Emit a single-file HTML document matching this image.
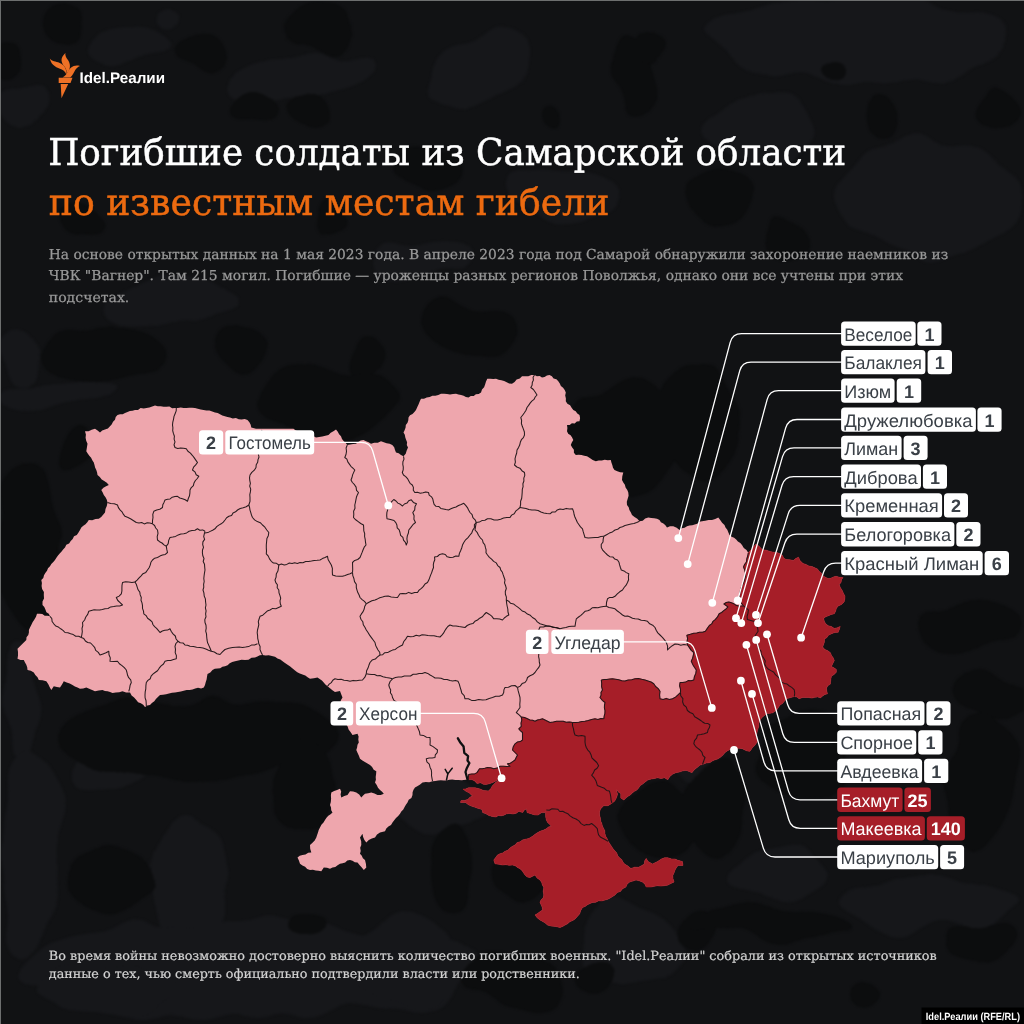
<!DOCTYPE html>
<html lang="ru"><head><meta charset="utf-8"><title>Погибшие солдаты из Самарской области</title>
<style>
html,body{margin:0;padding:0;background:#111214;}
body{width:1024px;height:1024px;overflow:hidden;position:relative;font-family:"Liberation Sans", "DejaVu Sans", sans-serif;}
svg{position:absolute;left:0;top:0;display:block;will-change:transform}
text{text-rendering:geometricPrecision}
.t1{font-family:"DejaVu Serif", "Liberation Serif", serif;font-size:37px;stroke-width:.5px;paint-order:stroke}
.sub{font-family:"DejaVu Serif", "Liberation Serif", serif;font-size:13.7px;fill:#999;stroke:#999;stroke-width:.25px}
.foot{font-family:"DejaVu Serif", "Liberation Serif", serif;font-size:12.6px;fill:#d2d2d2;stroke:#d2d2d2;stroke-width:.2px}
.lb{font-family:"Liberation Sans", "DejaVu Sans", sans-serif;font-size:18px;fill:#3a4047}
.nb{font-family:"Liberation Sans", "DejaVu Sans", sans-serif;font-size:18px;font-weight:700;fill:#3a4047;text-anchor:middle}
.logo{font-family:"Liberation Sans", "DejaVu Sans", sans-serif;font-size:15.3px;font-weight:700;fill:#fff}
.cap{font-family:"Liberation Sans", "DejaVu Sans", sans-serif;font-size:10.4px;font-weight:700;fill:#fff}
.ld{fill:none;stroke:#fff;stroke-width:1.3;stroke-linejoin:round}
.bd{fill:none;stroke:#1d1315;stroke-width:1.05;stroke-opacity:.95;stroke-linejoin:round}
</style></head><body>
<svg width="1024" height="1024" viewBox="0 0 1024 1024">
<rect width="1024" height="1024" fill="#111214"/>
<defs><filter id="bl" x="0" y="0" width="1024" height="1024" filterUnits="userSpaceOnUse" color-interpolation-filters="sRGB"><feTurbulence type="fractalNoise" baseFrequency="0.013" numOctaves="2" seed="7" result="n"/><feDisplacementMap in="SourceGraphic" in2="n" scale="42" xChannelSelector="R" yChannelSelector="G"/><feGaussianBlur stdDeviation="1"/></filter></defs>
<g filter="url(#bl)">
<ellipse cx="171" cy="22" rx="13" ry="11" fill="#16171a"/>
<ellipse cx="133" cy="49" rx="47" ry="15" fill="#16171a"/>
<ellipse cx="24" cy="107" rx="24" ry="20" fill="#16171a"/>
<ellipse cx="24" cy="353" rx="24" ry="30" fill="#16171a"/>
<ellipse cx="300" cy="75" rx="75" ry="22" fill="#16171a" transform="rotate(-10 300 75)"/>
<ellipse cx="170" cy="300" rx="70" ry="20" fill="#16171a"/>
<ellipse cx="480" cy="70" rx="60" ry="32" fill="#16171a" transform="rotate(-20 480 70)"/>
<ellipse cx="560" cy="190" rx="55" ry="28" fill="#16171a" transform="rotate(10 560 190)"/>
<ellipse cx="420" cy="260" rx="50" ry="22" fill="#16171a"/>
<ellipse cx="860" cy="40" rx="150" ry="45" fill="#16171a"/>
<ellipse cx="930" cy="200" rx="90" ry="60" fill="#16171a"/>
<ellipse cx="760" cy="130" rx="60" ry="40" fill="#16171a"/>
<ellipse cx="20" cy="700" rx="18" ry="60" fill="#16171a"/>
<ellipse cx="60" cy="395" rx="60" ry="14" fill="#16171a"/>
<ellipse cx="108" cy="772" rx="42" ry="22" fill="#16171a" transform="rotate(-15 108 772)"/>
<ellipse cx="30" cy="850" rx="28" ry="100" fill="#16171a"/>
<ellipse cx="190" cy="880" rx="40" ry="60" fill="#16171a"/>
<ellipse cx="250" cy="968" rx="230" ry="48" fill="#16171a"/>
<ellipse cx="100" cy="990" rx="70" ry="25" fill="#16171a"/>
<ellipse cx="440" cy="800" rx="50" ry="25" fill="#16171a"/>
<ellipse cx="400" cy="960" rx="60" ry="40" fill="#16171a"/>
<ellipse cx="690" cy="760" rx="30" ry="18" fill="#16171a"/>
<ellipse cx="632" cy="940" rx="50" ry="45" fill="#16171a"/>
<ellipse cx="780" cy="875" rx="50" ry="26" fill="#16171a"/>
<ellipse cx="935" cy="900" rx="90" ry="27" fill="#16171a"/>
<ellipse cx="67" cy="22" rx="21" ry="17" fill="#0c0d0e"/>
<ellipse cx="204" cy="58" rx="22" ry="17" fill="#0c0d0e"/>
<ellipse cx="319" cy="26" rx="32" ry="24" fill="#0c0d0e"/>
<ellipse cx="259" cy="109" rx="26" ry="19" fill="#0c0d0e"/>
<ellipse cx="311" cy="112" rx="18" ry="18" fill="#0c0d0e"/>
<ellipse cx="77" cy="219" rx="22" ry="15" fill="#0c0d0e"/>
<ellipse cx="334" cy="221" rx="17" ry="13" fill="#0c0d0e"/>
<ellipse cx="5" cy="58" rx="14" ry="22" fill="#0c0d0e"/>
<ellipse cx="107" cy="350" rx="58" ry="34" fill="#0c0d0e"/>
<ellipse cx="236" cy="352" rx="26" ry="22" fill="#0c0d0e"/>
<ellipse cx="366" cy="352" rx="18" ry="22" fill="#0c0d0e"/>
<ellipse cx="547" cy="114" rx="13" ry="13" fill="#0c0d0e"/>
<ellipse cx="635" cy="80" rx="22" ry="43" fill="#0c0d0e"/>
<ellipse cx="430" cy="160" rx="30" ry="20" fill="#0c0d0e"/>
<ellipse cx="470" cy="330" rx="40" ry="25" fill="#0c0d0e"/>
<ellipse cx="882" cy="120" rx="17" ry="22" fill="#0c0d0e"/>
<ellipse cx="836" cy="72" rx="10" ry="9" fill="#0c0d0e"/>
<ellipse cx="655" cy="56" rx="15" ry="19" fill="#0c0d0e"/>
<ellipse cx="720" cy="202" rx="32" ry="22" fill="#0c0d0e"/>
<ellipse cx="784" cy="242" rx="20" ry="20" fill="#0c0d0e"/>
<ellipse cx="997" cy="105" rx="27" ry="19" fill="#0c0d0e"/>
<ellipse cx="330" cy="400" rx="70" ry="35" fill="#0c0d0e"/>
<ellipse cx="620" cy="440" rx="60" ry="55" fill="#0c0d0e"/>
<ellipse cx="700" cy="420" rx="40" ry="60" fill="#0c0d0e"/>
<ellipse cx="71" cy="450" rx="16" ry="18" fill="#0c0d0e"/>
<ellipse cx="30" cy="540" rx="34" ry="85" fill="#0c0d0e"/>
<ellipse cx="200" cy="740" rx="140" ry="42" fill="#0c0d0e"/>
<ellipse cx="305" cy="790" rx="34" ry="42" fill="#0c0d0e"/>
<ellipse cx="110" cy="880" rx="45" ry="35" fill="#0c0d0e"/>
<ellipse cx="307" cy="925" rx="18" ry="16" fill="#0c0d0e"/>
<ellipse cx="451" cy="865" rx="19" ry="45" fill="#0c0d0e"/>
<ellipse cx="520" cy="880" rx="25" ry="22" fill="#0c0d0e"/>
<ellipse cx="520" cy="985" rx="50" ry="30" fill="#0c0d0e"/>
<ellipse cx="660" cy="820" rx="45" ry="35" fill="#0c0d0e"/>
<ellipse cx="800" cy="755" rx="48" ry="42" fill="#0c0d0e"/>
<ellipse cx="715" cy="808" rx="38" ry="42" fill="#0c0d0e"/>
<ellipse cx="698" cy="930" rx="18" ry="18" fill="#0c0d0e"/>
<ellipse cx="597" cy="973" rx="18" ry="16" fill="#0c0d0e"/>
<ellipse cx="770" cy="925" rx="80" ry="16" fill="#0c0d0e"/>
<ellipse cx="972" cy="623" rx="52" ry="30" fill="#0c0d0e"/>
<ellipse cx="990" cy="700" rx="34" ry="22" fill="#0c0d0e"/>
<ellipse cx="980" cy="780" rx="40" ry="60" fill="#0c0d0e"/>
<ellipse cx="870" cy="990" rx="18" ry="18" fill="#0c0d0e"/>
<ellipse cx="985" cy="942" rx="40" ry="20" fill="#0c0d0e"/>
</g>
<rect x="0" y="0" width="1024" height="1" fill="#6d6f6f"/><rect x="0" y="0" width="1" height="1024" fill="#6d6f6f"/>

<g fill="#ee7126">
<path d="M65.4,53 C59.8,58.2 61,62.4 64.6,66.8 C66.4,69.1 67,71.6 66.2,74.2 C71.4,68.6 70.6,63.2 67.6,59.4 C66,57.4 65,55.4 65.4,53Z"/>
<path d="M49.8,58.6 C51.4,66.2 57.2,67.6 61.8,69.6 C64.4,70.8 65.6,72.4 66.3,74.8 C67,68.6 64,64.6 59.8,63 C55.6,61.4 52,61.4 49.8,58.6Z"/>
<path d="M80,66 C73.2,64.4 69.8,68.2 67.8,71.8 C66.4,74.2 65.2,76 62.6,77.4 L70.2,77.4 C72.6,75.6 73.4,73 75,70.5 C76.2,68.5 77.5,67 80,66Z"/>
<path d="M58.7,77.8 L72.5,77.8 L70.5,82.9 L58.7,82.9Z"/>
<path d="M60.7,84 L68.2,84 L61.5,98.2 Z"/>
</g>
<text class="logo" x="79.6" y="82.8" textLength="85.4" lengthAdjust="spacingAndGlyphs">Idel.Реалии</text>

<text class="t1" x="48.2" y="165.4" textLength="798" lengthAdjust="spacingAndGlyphs" fill="#fff" stroke="#fff">Погибшие солдаты из Самарской области</text>
<text class="t1" x="48.8" y="215.3" textLength="560.5" lengthAdjust="spacingAndGlyphs" fill="#ec6a10" stroke="#ec6a10">по известным местам гибели</text>
<text class="sub" x="48.8" y="258.8" textLength="899.4" lengthAdjust="spacingAndGlyphs">На основе открытых данных на 1 мая 2023 года. В апреле 2023 года под Самарой обнаружили захоронение наемников из</text>
<text class="sub" x="48.8" y="280.2" textLength="854.2" lengthAdjust="spacingAndGlyphs">ЧВК "Вагнер". Там 215 могил. Погибшие — уроженцы разных регионов Поволжья, однако они все учтены при этих</text>
<text class="sub" x="48.8" y="301.5" textLength="80.5" lengthAdjust="spacingAndGlyphs">подсчетах.</text>
<text class="foot" x="48.8" y="959.5" textLength="888" lengthAdjust="spacingAndGlyphs">Во время войны невозможно достоверно выяснить количество погибших военных. "Idel.Реалии" собрали из открытых источников</text>
<text class="foot" x="48.8" y="978.3" textLength="531" lengthAdjust="spacingAndGlyphs">данные о тех, чью смерть официально подтвердили власти или родственники.</text>
<path d="M26.3,640.0 L26.5,637.3 L28.3,635.1 L28.9,632.6 L28.9,629.9 L30.0,627.5 L31.4,624.8 L32.7,622.0 L34.4,619.4 L36.0,616.7 L37.0,613.8 L39.7,613.7 L42.3,614.1 L44.7,615.8 L47.4,615.7 L50.0,616.3 L48.8,613.8 L46.4,612.2 L45.4,609.6 L44.3,607.1 L42.5,605.0 L42.5,601.6 L44.0,598.4 L43.8,595.0 L43.9,591.9 L42.1,589.1 L41.6,586.1 L41.9,583.0 L41.3,580.0 L43.3,578.1 L44.0,575.3 L45.3,572.9 L47.0,570.8 L48.0,568.2 L50.0,566.3 L51.3,564.0 L53.3,562.1 L55.0,560.0 L56.4,557.7 L58.0,555.6 L59.7,553.5 L61.6,551.6 L63.1,549.4 L65.0,547.5 L66.3,544.8 L69.1,543.5 L70.7,541.0 L72.7,538.9 L74.0,536.3 L76.8,534.9 L78.5,532.5 L80.0,530.0 L81.3,527.6 L83.3,525.8 L85.5,524.2 L87.3,522.2 L88.8,520.0 L92.2,520.2 L95.5,519.1 L98.8,518.8 L101.2,517.0 L103.1,514.8 L105.0,512.5 L105.5,509.1 L106.8,505.9 L107.5,502.5 L106.8,499.7 L105.5,497.3 L103.8,495.0 L102.7,492.4 L101.3,490.0 L103.4,487.8 L106.1,486.3 L108.8,485.0 L106.8,482.7 L104.2,481.1 L101.7,479.4 L99.8,476.9 L97.5,475.0 L97.1,472.4 L96.3,469.9 L95.1,467.6 L94.5,465.0 L93.8,462.5 L92.3,460.3 L91.1,457.8 L89.3,455.8 L87.7,453.6 L86.3,451.3 L86.9,447.5 L87.5,443.8 L86.2,440.8 L85.6,437.7 L85.9,434.4 L85.0,431.3 L88.5,431.2 L91.7,429.8 L95.0,428.8 L97.6,430.5 L100.0,432.5 L102.2,430.5 L105.0,429.4 L107.9,428.5 L110.0,426.3 L111.8,424.3 L113.0,421.8 L115.0,419.8 L115.7,417.0 L117.5,415.0 L120.0,414.3 L122.7,414.2 L125.0,413.0 L127.5,412.1 L129.9,411.1 L132.5,410.8 L135.0,410.0 L138.0,410.0 L140.6,408.0 L143.7,408.5 L146.5,407.9 L149.4,407.4 L152.2,406.5 L155.0,405.5 L157.8,406.3 L160.7,406.2 L163.6,406.7 L166.4,406.8 L169.4,406.6 L172.1,408.2 L175.0,408.0 L177.9,408.1 L180.7,407.5 L183.6,408.0 L186.4,408.0 L189.3,407.8 L192.1,407.8 L195.0,408.0 L197.8,408.7 L200.7,409.5 L203.5,410.1 L206.4,410.5 L209.4,410.5 L212.2,411.5 L215.0,412.5 L217.7,412.9 L220.0,414.3 L222.3,415.5 L224.9,416.3 L227.4,417.1 L230.0,417.5 L232.8,418.4 L235.9,418.0 L238.7,419.3 L241.6,419.4 L244.7,419.0 L247.5,420.0 L249.4,422.2 L250.7,424.7 L251.3,427.5 L256.0,428.8 L293.5,428.8 L295.8,430.4 L298.3,431.4 L301.2,431.1 L303.7,432.1 L305.8,434.1 L308.4,434.9 L310.9,435.8 L313.6,436.3 L316.0,437.5 L319.2,437.0 L322.3,436.4 L325.4,435.7 L328.5,435.0 L330.7,432.8 L333.4,431.2 L336.0,429.5 L337.8,431.7 L339.1,434.2 L341.0,436.3 L342.0,438.9 L343.6,441.0 L345.7,442.9 L347.3,445.0 L350.2,444.5 L353.1,443.9 L356.0,443.8 L358.2,441.9 L360.7,440.6 L363.5,440.0 L366.0,441.2 L368.6,442.3 L371.0,443.8 L374.3,442.8 L377.8,442.7 L381.0,441.3 L383.8,442.3 L386.6,443.2 L389.6,443.7 L392.3,445.0 L394.2,447.2 L395.0,449.9 L396.0,452.5 L398.7,453.3 L401.0,455.0 L403.5,456.3 L405.7,453.7 L406.7,450.6 L408.0,447.5 L406.8,445.1 L407.1,442.3 L406.2,439.9 L405.3,437.4 L404.8,434.8 L403.5,432.5 L404.7,430.1 L405.6,427.6 L405.8,424.9 L407.5,422.7 L408.3,420.2 L408.5,417.5 L410.0,415.3 L412.5,414.0 L414.4,412.1 L416.0,410.0 L417.2,407.2 L418.5,404.4 L419.7,401.6 L421.0,398.8 L424.0,398.7 L426.7,397.4 L429.7,397.1 L432.4,395.7 L435.4,395.8 L438.3,395.1 L441.0,393.8 L444.0,393.7 L447.0,393.9 L450.0,394.4 L453.0,394.1 L456.0,393.8 L458.5,394.5 L461.1,394.9 L463.6,395.8 L465.9,397.0 L468.5,397.5 L470.8,396.0 L473.7,396.1 L475.9,394.2 L478.7,394.1 L481.0,392.5 L482.0,389.6 L484.1,387.3 L485.1,384.4 L486.0,381.5 L487.3,378.8 L490.2,378.8 L493.1,379.0 L496.0,378.8 L498.6,379.8 L501.4,380.2 L504.1,380.9 L506.7,382.2 L509.1,383.6 L512.0,383.8 L514.6,382.1 L516.6,379.5 L519.8,378.6 L522.0,376.3 L525.2,376.3 L528.3,376.3 L531.3,374.9 L534.5,375.0 L536.9,376.2 L539.7,376.0 L542.0,377.5 L544.6,376.9 L546.9,375.5 L549.5,375.0 L551.9,376.2 L553.6,378.6 L556.4,379.2 L558.3,381.3 L559.8,383.6 L560.9,386.1 L563.1,387.8 L564.7,390.0 L565.8,392.5 L565.2,395.4 L565.9,398.4 L565.8,401.3 L567.4,403.7 L570.1,405.2 L571.6,407.7 L573.3,410.0 L575.7,411.3 L577.3,413.5 L579.5,415.0 L580.1,418.1 L579.5,421.3 L576.8,421.4 L574.7,423.5 L571.9,423.2 L569.7,424.9 L567.0,425.0 L567.4,428.1 L567.0,431.3 L568.2,433.8 L570.6,435.3 L572.1,437.5 L573.3,440.0 L571.8,442.4 L570.8,445.0 L572.2,447.4 L573.9,449.7 L573.9,452.8 L575.8,455.0 L578.7,454.8 L581.5,455.0 L584.2,455.7 L587.0,456.3 L589.8,458.1 L592.7,459.9 L595.8,461.3 L598.7,460.5 L601.8,460.5 L604.7,459.8 L607.8,460.2 L610.8,460.0 L611.4,462.6 L612.3,465.1 L613.0,467.7 L614.5,470.0 L617.3,471.2 L620.2,472.2 L623.3,472.5 L622.3,476.2 L622.0,480.0 L623.3,482.5 L624.9,484.8 L625.6,487.6 L627.3,489.9 L628.3,492.5 L628.6,495.7 L627.7,498.8 L626.8,501.8 L627.0,505.0 L628.7,507.3 L629.4,510.1 L630.9,512.4 L632.0,515.0 L634.5,517.1 L637.3,518.8 L639.5,521.3 L642.7,520.7 L645.2,518.4 L648.3,517.5 L651.2,518.1 L654.1,518.2 L657.0,518.8 L659.5,520.0 L660.9,522.3 L663.4,523.6 L665.4,525.3 L667.0,527.5 L670.0,526.2 L673.3,526.3 L676.7,527.7 L679.5,530.0 L681.7,528.2 L684.6,527.7 L687.0,526.3 L689.5,525.5 L692.2,525.3 L694.7,524.4 L697.2,523.7 L699.4,521.8 L702.0,521.3 L705.3,520.8 L708.6,520.1 L712.0,520.0 L715.2,518.9 L718.3,517.5 L720.2,520.1 L722.1,522.8 L724.5,525.0 L725.5,527.6 L727.3,529.8 L728.4,532.4 L729.5,535.0 L731.6,536.7 L734.1,537.8 L736.2,539.5 L737.9,541.6 L740.3,542.9 L742.0,545.0 L743.8,547.9 L746.5,550.1 L748.3,553.0 L756.0,544.0 L759.1,546.3 L761.6,549.1 L764.3,549.9 L767.1,550.4 L769.8,551.4 L772.4,552.0 L775.0,552.5 L777.7,552.8 L780.3,554.0 L782.5,555.6 L783.8,558.3 L786.3,559.6 L789.8,559.7 L793.3,560.5 L795.7,558.5 L798.5,557.2 L800.1,560.8 L803.0,563.5 L806.0,564.5 L808.8,566.0 L812.0,566.6 L814.8,567.8 L817.5,569.0 L819.0,571.3 L821.3,573.0 L822.6,575.5 L825.2,577.2 L828.0,578.5 L830.8,578.3 L833.3,577.1 L836.0,576.3 L839.4,577.3 L843.0,577.5 L841.5,579.7 L841.0,582.5 L839.2,584.5 L840.3,587.6 L842.1,590.3 L843.4,593.3 L845.0,596.2 L844.8,599.1 L844.1,602.0 L841.5,604.5 L838.2,605.9 L836.4,608.3 L835.6,611.2 L834.3,613.8 L831.2,614.4 L828.4,615.7 L825.7,616.7 L823.6,618.6 L824.3,621.2 L825.5,623.5 L828.1,625.7 L831.4,626.6 L834.3,628.4 L837.4,627.8 L840.2,626.4 L839.3,629.4 L838.2,632.3 L834.7,632.6 L831.5,633.7 L828.4,635.2 L826.9,637.6 L824.5,639.1 L824.4,641.9 L823.6,644.5 L822.6,647.0 L824.8,649.5 L827.9,650.8 L830.4,652.8 L831.5,655.5 L833.3,657.9 L834.3,660.6 L832.8,663.5 L831.4,666.5 L833.9,667.8 L836.3,669.4 L836.3,672.3 L834.0,674.5 L831.4,676.3 L830.9,678.9 L830.6,681.5 L830.4,684.1 L828.0,685.6 L826.5,688.0 L826.7,690.9 L827.5,693.8 L824.9,694.5 L822.6,695.9 L820.6,697.7 L817.7,696.9 L814.8,697.3 L811.8,698.1 L808.9,697.5 L805.6,697.4 L802.3,697.6 L799.1,698.7 L797.0,697.0 L794.3,696.5 L786.3,698.8 L784.5,701.1 L782.5,703.4 L780.0,705.0 L778.5,707.2 L777.1,709.5 L775.0,711.3 L772.7,712.8 L770.1,713.3 L767.3,713.5 L765.0,715.0 L762.2,717.2 L760.0,720.0 L758.8,723.2 L758.7,726.8 L757.5,730.0 L756.8,733.7 L756.3,737.5 L757.5,741.3 L756.1,743.6 L754.5,745.7 L752.5,747.5 L750.0,751.3 L747.3,751.0 L744.9,750.0 L742.5,748.8 L739.2,748.2 L735.8,748.3 L732.5,748.8 L729.8,749.6 L727.3,750.9 L725.0,752.5 L722.8,755.3 L720.0,757.5 L717.6,759.0 L714.9,759.8 L712.3,760.9 L710.0,762.5 L706.1,763.0 L702.5,764.5 L700.0,765.1 L697.8,766.9 L695.7,768.6 L693.6,770.5 L691.9,772.7 L689.3,771.4 L686.2,770.4 L683.0,770.8 L679.2,772.1 L675.9,772.7 L672.8,774.0 L669.8,776.4 L667.8,779.7 L664.6,777.8 L661.1,778.5 L657.6,777.8 L654.4,778.5 L651.2,779.0 L647.7,780.0 L644.9,782.2 L642.7,783.9 L640.3,785.6 L638.6,787.9 L636.8,790.1 L634.4,791.3 L632.2,793.0 L630.3,795.0 L628.0,796.3 L625.9,798.1 L623.9,800.0 L620.8,798.1 L620.8,793.6 L618.9,792.4 L616.3,789.2 L616.8,791.8 L617.6,794.3 L616.3,798.1 L614.7,801.1 L611.9,803.2 L608.1,805.7 L603.6,805.7 L600.5,808.9 L599.5,812.0 L599.6,815.3 L600.5,818.4 L600.7,821.1 L601.8,823.5 L602.4,826.0 L603.6,828.4 L604.8,830.8 L604.9,833.6 L605.7,836.2 L607.1,838.6 L608.1,841.2 L613.2,848.9 L615.0,851.0 L616.8,853.0 L617.7,855.7 L619.5,857.8 L621.7,859.5 L622.9,862.0 L624.6,864.1 L627.9,866.1 L630.9,868.5 L634.6,867.2 L638.6,867.3 L641.5,865.7 L644.3,864.1 L644.6,861.0 L646.2,858.4 L648.1,861.6 L652.5,864.1 L655.0,862.8 L657.6,861.6 L661.4,859.0 L664.5,857.8 L667.8,857.8 L671.6,859.0 L674.9,859.0 L677.9,860.3 L682.4,861.6 L683.0,865.4 L677.9,865.4 L675.4,869.2 L674.2,872.4 L672.8,875.5 L673.0,878.8 L674.1,881.9 L670.3,883.8 L667.3,885.3 L664.0,885.7 L660.8,886.1 L657.6,885.7 L654.4,886.2 L651.2,887.0 L646.2,887.0 L644.8,884.0 L642.4,881.9 L639.2,880.8 L636.0,880.0 L632.9,881.1 L629.7,881.9 L627.2,884.0 L625.9,887.0 L622.5,888.8 L620.4,891.4 L617.2,892.5 L615.0,895.0 L612.6,896.5 L610.2,898.0 L607.8,899.3 L605.0,900.0 L601.9,900.9 L598.7,900.8 L595.7,902.3 L592.5,902.5 L589.9,903.6 L587.4,904.8 L585.1,906.4 L582.5,907.5 L580.8,910.4 L579.7,913.7 L577.5,916.3 L575.4,918.7 L572.8,920.4 L569.8,921.7 L567.5,923.8 L565.0,925.1 L562.6,926.5 L560.0,927.5 L556.9,926.7 L553.7,926.3 L550.6,925.9 L547.5,925.0 L545.2,923.0 L542.7,921.4 L540.0,920.0 L537.2,917.8 L535.0,915.0 L537.6,913.4 L540.0,911.7 L542.5,910.0 L542.2,907.3 L541.2,904.9 L540.0,902.5 L541.0,899.9 L543.2,897.8 L543.8,895.0 L543.2,891.2 L543.8,887.5 L542.4,885.1 L541.6,882.3 L540.0,880.0 L537.1,877.9 L535.0,875.0 L532.5,876.3 L530.0,877.5 L527.2,876.9 L525.0,875.0 L523.5,872.8 L522.0,870.6 L520.0,868.8 L517.5,867.4 L515.3,865.8 L512.5,865.0 L509.2,865.3 L505.8,864.7 L502.5,865.0 L498.8,864.3 L495.0,863.8 L493.8,860.0 L495.7,857.6 L497.5,855.0 L500.0,853.7 L502.7,853.0 L505.0,851.3 L507.9,850.2 L510.0,847.9 L512.5,846.3 L515.1,844.9 L517.1,842.6 L520.2,841.8 L522.5,840.0 L525.1,839.3 L527.8,838.8 L530.2,837.7 L532.5,836.3 L534.8,834.4 L537.4,832.8 L540.0,831.3 L543.2,830.3 L546.3,828.8 L548.5,826.9 L551.3,826.3 L549.6,824.2 L547.6,822.4 L546.3,820.0 L545.7,816.7 L545.6,813.3 L546.3,810.0 L545.5,812.6 L541.7,812.6 L537.9,815.1 L534.7,814.9 L531.6,813.9 L527.1,812.6 L526.5,808.8 L524.1,810.2 L522.7,812.6 L518.9,811.3 L516.3,813.2 L513.0,814.0 L509.5,813.4 L506.2,813.9 L503.8,815.3 L501.2,815.8 L498.3,815.5 L496.0,817.0 L492.2,816.4 L488.9,815.5 L485.9,813.7 L482.7,812.6 L482.0,809.4 L479.5,808.7 L476.9,807.9 L474.4,807.0 L471.9,806.2 L468.5,804.7 L465.5,802.4 L460.5,802.4 L461.1,800.5 L464.7,800.4 L468.1,799.3 L469.9,797.2 L472.5,796.1 L469.4,792.9 L466.0,791.3 L463.0,789.1 L465.5,789.1 L468.6,787.7 L471.9,787.8 L475.1,787.8 L478.2,788.5 L480.8,789.3 L483.3,790.4 L488.4,791.0 L490.8,788.8 L492.2,785.9 L494.2,784.1 L496.1,782.1 L498.6,780.9 L498.6,779.6 L495.4,781.2 L492.2,782.8 L489.1,783.8 L485.9,784.5 L483.2,784.2 L480.8,782.8 L477.0,783.4 L474.8,781.1 L471.9,779.6 L468.1,779.6 L461.7,780.2 L458.5,779.9 L455.4,779.9 L452.2,779.6 L449.4,779.8 L446.6,780.6 L443.8,780.5 L440.9,780.2 L438.1,780.4 L435.3,780.9 L432.5,781.3 L429.2,782.2 L425.8,782.1 L422.5,782.5 L420.1,784.4 L417.7,786.1 L415.0,787.5 L413.5,789.8 L412.6,792.3 L412.5,795.0 L411.4,797.9 L408.7,799.7 L407.5,802.5 L405.9,804.7 L404.6,807.1 L403.3,809.5 L401.3,811.4 L400.0,813.8 L398.2,816.0 L396.0,818.0 L394.2,820.2 L392.5,822.5 L391.0,825.1 L388.4,826.6 L386.3,828.6 L385.0,831.3 L380.0,832.5 L377.0,834.5 L375.0,837.5 L371.8,838.6 L368.8,840.0 L366.3,842.5 L364.4,839.9 L363.1,837.0 L362.5,833.8 L360.0,837.5 L361.2,841.2 L361.3,845.0 L360.2,847.8 L360.7,850.9 L360.0,853.8 L361.8,855.7 L362.9,858.3 L365.0,860.0 L365.9,863.7 L366.3,867.5 L363.8,870.0 L361.8,867.5 L359.5,865.1 L357.5,862.5 L354.8,862.3 L352.5,860.7 L350.0,860.0 L347.3,860.5 L345.2,862.4 L342.6,863.2 L340.0,863.8 L337.6,865.2 L335.3,866.9 L332.5,867.6 L330.0,868.8 L327.0,867.7 L323.8,867.5 L321.3,871.3 L318.5,870.7 L315.7,870.6 L312.9,869.8 L310.0,870.0 L307.2,868.9 L305.1,866.8 L302.4,865.5 L300.0,863.8 L298.9,860.6 L297.5,857.5 L299.7,855.7 L302.5,855.0 L305.5,854.6 L308.2,852.8 L311.3,852.5 L310.2,848.8 L310.0,845.0 L312.5,842.8 L314.7,840.4 L316.3,837.5 L317.1,835.0 L318.0,832.5 L318.7,829.9 L320.0,827.5 L321.4,824.8 L323.5,822.6 L325.0,820.0 L326.5,817.8 L328.3,815.8 L330.6,814.3 L332.5,812.5 L331.2,810.2 L331.0,807.4 L330.0,805.0 L330.8,801.9 L331.1,798.8 L330.9,795.6 L331.3,792.5 L334.1,791.1 L337.1,789.9 L340.0,788.8 L341.2,791.6 L340.6,794.6 L341.3,797.5 L344.3,796.0 L347.5,795.0 L350.0,791.3 L353.2,791.6 L356.3,792.5 L359.2,794.6 L361.3,797.5 L363.1,795.6 L365.0,793.8 L368.2,793.3 L371.3,792.5 L374.5,793.6 L377.5,795.0 L380.8,794.9 L383.8,793.8 L382.1,791.7 L380.0,790.0 L378.0,787.7 L376.7,785.0 L375.0,782.5 L375.9,779.8 L375.7,776.9 L376.1,774.1 L376.3,771.3 L373.7,769.7 L372.1,767.1 L370.0,765.0 L367.5,763.5 L364.9,762.0 L362.4,760.5 L360.0,758.8 L358.9,755.8 L357.6,752.9 L356.3,750.0 L357.1,747.5 L357.5,744.8 L358.8,742.5 L358.3,739.6 L358.6,736.6 L357.5,733.8 L352.5,735.0 L350.7,732.2 L348.6,729.5 L347.5,726.3 L345.7,723.8 L345.3,720.6 L343.5,718.1 L343.0,715.0 L341.2,712.8 L340.0,710.3 L339.2,707.5 L338.0,705.0 L340.1,702.9 L341.0,700.0 L342.5,697.5 L341.2,694.3 L340.0,691.0 L335.0,692.0 L332.4,690.2 L330.0,688.2 L327.5,686.3 L325.4,684.6 L323.7,682.5 L321.9,680.6 L319.7,679.0 L317.5,677.5 L313.8,678.3 L310.0,678.8 L307.6,677.2 L305.3,675.4 L302.5,674.5 L299.8,673.6 L297.3,672.2 L295.0,670.5 L292.6,668.5 L290.2,666.5 L287.6,664.7 L285.0,663.0 L282.6,661.3 L280.3,659.5 L277.5,658.4 L275.0,656.8 L271.9,655.9 L268.8,655.2 L265.6,655.5 L262.5,655.0 L259.8,655.3 L257.4,656.4 L255.0,657.5 L251.5,657.8 L248.5,659.8 L245.0,660.0 L241.6,659.8 L238.3,660.5 L235.0,661.3 L232.2,661.9 L229.7,663.2 L227.6,665.3 L225.0,666.3 L222.4,666.8 L220.2,668.3 L217.5,668.4 L214.8,668.7 L212.5,670.0 L210.3,672.4 L207.5,674.0 L207.0,676.8 L206.6,679.6 L205.7,682.2 L205.0,684.9 L203.8,687.5 L201.1,688.6 L198.0,687.8 L195.2,688.4 L192.5,689.5 L189.6,690.1 L186.6,690.1 L183.7,690.7 L180.8,691.5 L177.9,692.1 L175.0,692.5 L172.0,692.8 L169.0,693.4 L166.1,694.3 L163.0,694.7 L160.0,695.0 L157.9,696.9 L155.9,698.9 L154.3,701.3 L151.9,702.9 L150.0,705.0 L147.3,705.5 L145.0,707.0 L143.2,704.8 L140.8,703.3 L138.1,702.3 L136.3,700.0 L134.1,697.6 L131.6,695.4 L130.0,692.5 L126.1,692.6 L122.5,691.3 L119.2,692.2 L115.8,692.5 L112.5,693.0 L110.1,691.9 L107.6,691.3 L104.9,691.1 L102.5,690.0 L98.7,690.4 L95.0,691.3 L92.1,690.0 L89.2,688.8 L86.3,687.5 L83.2,688.5 L80.0,688.8 L77.5,687.6 L74.9,686.5 L72.5,685.0 L69.7,683.5 L66.7,682.6 L63.8,681.3 L62.0,684.4 L60.0,687.5 L56.9,686.9 L53.8,686.3 L51.3,690.0 L49.6,687.1 L48.2,684.1 L46.3,681.3 L42.6,680.3 L38.8,680.0 L37.5,677.2 L35.3,675.1 L33.8,672.5 L30.8,670.8 L27.5,670.0 L27.2,667.3 L26.3,664.7 L25.0,662.4 L23.8,660.0 L20.5,660.0 L17.5,658.8 L18.0,655.5 L18.0,652.1 L17.5,648.8Z" fill="#eea6ad"/>
<path d="M756.0,544.0 L759.1,546.3 L761.6,549.1 L764.3,549.9 L767.1,550.4 L769.8,551.4 L772.4,552.0 L775.0,552.5 L777.7,552.8 L780.3,554.0 L782.5,555.6 L783.8,558.3 L786.3,559.6 L789.8,559.7 L793.3,560.5 L795.7,558.5 L798.5,557.2 L800.1,560.8 L803.0,563.5 L806.0,564.5 L808.8,566.0 L812.0,566.6 L814.8,567.8 L817.5,569.0 L819.0,571.3 L821.3,573.0 L822.6,575.5 L825.2,577.2 L828.0,578.5 L830.8,578.3 L833.3,577.1 L836.0,576.3 L839.4,577.3 L843.0,577.5 L841.5,579.7 L841.0,582.5 L839.2,584.5 L840.3,587.6 L842.1,590.3 L843.4,593.3 L845.0,596.2 L844.8,599.1 L844.1,602.0 L841.5,604.5 L838.2,605.9 L836.4,608.3 L835.6,611.2 L834.3,613.8 L831.2,614.4 L828.4,615.7 L825.7,616.7 L823.6,618.6 L824.3,621.2 L825.5,623.5 L828.1,625.7 L831.4,626.6 L834.3,628.4 L837.4,627.8 L840.2,626.4 L839.3,629.4 L838.2,632.3 L834.7,632.6 L831.5,633.7 L828.4,635.2 L826.9,637.6 L824.5,639.1 L824.4,641.9 L823.6,644.5 L822.6,647.0 L824.8,649.5 L827.9,650.8 L830.4,652.8 L831.5,655.5 L833.3,657.9 L834.3,660.6 L832.8,663.5 L831.4,666.5 L833.9,667.8 L836.3,669.4 L836.3,672.3 L834.0,674.5 L831.4,676.3 L830.9,678.9 L830.6,681.5 L830.4,684.1 L828.0,685.6 L826.5,688.0 L826.7,690.9 L827.5,693.8 L824.9,694.5 L822.6,695.9 L820.6,697.7 L817.7,696.9 L814.8,697.3 L811.8,698.1 L808.9,697.5 L805.6,697.4 L802.3,697.6 L799.1,698.7 L797.0,697.0 L794.3,696.5 L794.3,696.5 L794.7,693.2 L794.3,689.9 L792.1,687.6 L789.4,686.0 L787.1,684.1 L784.2,683.4 L781.6,682.1 L780.2,679.2 L778.1,676.9 L775.6,674.9 L773.8,672.3 L771.0,670.6 L768.1,669.0 L765.9,666.5 L764.6,664.1 L765.3,661.1 L764.0,658.7 L762.6,656.5 L761.2,654.2 L761.0,651.4 L759.5,649.2 L758.1,647.0 L757.7,644.3 L755.7,642.3 L755.0,639.7 L754.2,637.2 L756.1,634.2 L758.1,631.3 L757.6,627.9 L756.0,624.9 L755.2,621.6 L752.6,620.9 L750.0,620.2 L747.4,619.6 L747.1,616.3 L748.0,613.1 L748.4,609.8 L746.0,607.8 L743.5,605.9 L743.5,605.9 L740.5,602.0 L740.1,599.4 L739.7,596.8 L739.6,594.2 L740.3,590.9 L741.1,587.6 L742.5,584.5 L743.8,582.0 L744.6,579.3 L745.4,576.6 L745.5,573.2 L744.7,570.0 L743.5,566.9 L744.7,564.3 L746.4,562.0 L746.8,559.0 L747.7,556.0 L748.3,553.0Z" fill="#a61e28" stroke="#a61e28" stroke-width=".6" stroke-linejoin="round"/>
<path d="M743.5,605.9 L746.0,607.8 L748.4,609.8 L748.0,613.1 L747.1,616.3 L747.4,619.6 L750.0,620.2 L752.6,620.9 L755.2,621.6 L756.0,624.9 L757.6,627.9 L758.1,631.3 L756.1,634.2 L754.2,637.2 L755.0,639.7 L755.7,642.3 L757.7,644.3 L758.1,647.0 L759.5,649.2 L761.0,651.4 L761.2,654.2 L762.6,656.5 L764.0,658.7 L765.3,661.1 L764.6,664.1 L765.9,666.5 L768.1,669.0 L771.0,670.6 L773.8,672.3 L775.6,674.9 L778.1,676.9 L780.2,679.2 L781.6,682.1 L784.2,683.4 L787.1,684.1 L789.4,686.0 L792.1,687.6 L794.3,689.9 L794.7,693.2 L794.3,696.5 L786.3,698.8 L784.5,701.1 L782.5,703.4 L780.0,705.0 L778.5,707.2 L777.1,709.5 L775.0,711.3 L772.7,712.8 L770.1,713.3 L767.3,713.5 L765.0,715.0 L762.2,717.2 L760.0,720.0 L758.8,723.2 L758.7,726.8 L757.5,730.0 L756.8,733.7 L756.3,737.5 L757.5,741.3 L756.1,743.6 L754.5,745.7 L752.5,747.5 L750.0,751.3 L747.3,751.0 L744.9,750.0 L742.5,748.8 L739.2,748.2 L735.8,748.3 L732.5,748.8 L729.8,749.6 L727.3,750.9 L725.0,752.5 L722.8,755.3 L720.0,757.5 L717.6,759.0 L714.9,759.8 L712.3,760.9 L710.0,762.5 L706.1,763.0 L702.5,764.5 L702.5,764.5 L703.7,761.0 L705.0,757.5 L702.8,755.4 L702.0,752.3 L700.0,750.0 L697.6,748.2 L695.5,746.3 L693.8,743.8 L694.5,740.7 L696.6,738.1 L697.5,735.0 L700.9,734.5 L704.2,733.7 L707.5,732.5 L708.0,729.9 L709.4,727.6 L710.0,725.0 L707.7,723.4 L704.7,723.2 L702.3,721.7 L700.0,720.0 L697.3,718.3 L694.7,716.7 L692.9,713.8 L690.0,712.5 L687.4,710.5 L686.3,707.2 L683.8,705.0 L682.6,702.0 L682.9,698.6 L680.7,695.8 L680.5,692.5 L680.5,692.5 L680.5,689.2 L679.6,685.9 L680.0,682.5 L682.8,682.4 L685.6,682.1 L688.2,680.6 L691.1,680.7 L693.8,680.0 L694.4,676.6 L695.8,673.4 L696.3,670.0 L694.4,667.2 L692.7,664.4 L691.3,661.3 L692.5,658.5 L693.3,655.5 L693.8,652.5 L691.2,650.4 L689.4,647.6 L687.5,645.0 L687.0,641.8 L687.6,638.4 L686.8,635.2 L686.8,635.2 L690.3,634.3 L693.7,633.3 L696.7,633.1 L699.5,632.3 L702.5,632.2 L705.4,631.3 L707.3,628.4 L709.3,625.5 L711.7,623.9 L713.0,621.3 L715.2,619.6 L717.5,616.9 L719.1,613.8 L721.6,612.5 L723.7,610.7 L726.0,609.0 L727.9,606.9 L723.9,604.0 L726.2,602.5 L728.8,602.0 L731.4,602.7 L733.8,603.7 L736.0,605.3 L738.6,605.9 L743.5,605.9Z" fill="#a61e28" stroke="#a61e28" stroke-width=".6" stroke-linejoin="round"/>
<path d="M601.3,680.0 L604.1,679.5 L606.9,679.4 L609.7,679.0 L612.5,678.8 L615.6,679.3 L618.8,679.8 L621.8,680.7 L625.0,681.0 L628.3,679.9 L631.7,679.7 L635.0,678.8 L638.4,678.5 L641.7,679.3 L645.0,680.0 L648.0,681.0 L651.1,682.0 L653.8,683.8 L655.6,686.5 L658.2,688.6 L660.0,691.3 L659.6,695.0 L660.0,698.8 L663.1,699.5 L666.2,698.4 L669.4,699.4 L672.5,698.8 L675.5,697.1 L678.0,694.8 L680.5,692.5 L680.5,692.5 L680.7,695.8 L682.9,698.6 L682.6,702.0 L683.8,705.0 L686.3,707.2 L687.4,710.5 L690.0,712.5 L692.9,713.8 L694.7,716.7 L697.3,718.3 L700.0,720.0 L702.3,721.7 L704.7,723.2 L707.7,723.4 L710.0,725.0 L709.4,727.6 L708.0,729.9 L707.5,732.5 L704.2,733.7 L700.9,734.5 L697.5,735.0 L696.6,738.1 L694.5,740.7 L693.8,743.8 L695.5,746.3 L697.6,748.2 L700.0,750.0 L702.0,752.3 L702.8,755.4 L705.0,757.5 L703.7,761.0 L702.5,764.5 L700.0,765.1 L697.8,766.9 L695.7,768.6 L693.6,770.5 L691.9,772.7 L689.3,771.4 L686.2,770.4 L683.0,770.8 L679.2,772.1 L675.9,772.7 L672.8,774.0 L669.8,776.4 L667.8,779.7 L664.6,777.8 L661.1,778.5 L657.6,777.8 L654.4,778.5 L651.2,779.0 L647.7,780.0 L644.9,782.2 L642.7,783.9 L640.3,785.6 L638.6,787.9 L636.8,790.1 L634.4,791.3 L632.2,793.0 L630.3,795.0 L628.0,796.3 L625.9,798.1 L623.9,800.0 L620.8,798.1 L620.8,793.6 L618.9,792.4 L616.3,789.2 L616.8,791.8 L617.6,794.3 L616.3,798.1 L614.7,801.1 L611.9,803.2 L611.9,803.2 L611.1,800.2 L610.8,797.1 L610.3,794.1 L609.4,791.1 L606.6,790.4 L604.4,788.3 L601.7,787.3 L597.3,785.4 L596.0,780.9 L594.1,777.8 L591.6,775.2 L593.4,772.9 L594.6,770.0 L597.1,768.2 L598.6,765.7 L596.8,762.5 L594.1,760.0 L591.9,757.9 L591.1,754.9 L589.8,752.2 L587.8,750.1 L586.3,747.5 L585.4,744.8 L585.0,742.0 L585.1,739.1 L585.0,736.3 L581.7,735.5 L578.3,736.0 L575.0,735.0 L574.0,732.0 L573.5,728.8 L572.5,725.7 L572.5,722.5 L572.5,722.5 L575.7,722.5 L578.8,722.3 L581.9,721.6 L585.0,721.3 L588.3,720.5 L591.6,719.5 L595.0,718.8 L597.9,719.5 L600.9,718.5 L603.8,718.8 L603.8,718.8 L604.2,716.1 L604.9,713.4 L605.0,710.7 L604.4,707.9 L604.5,705.2 L605.0,702.5 L602.2,700.3 L600.0,697.5 L601.1,695.1 L601.0,692.3 L602.5,690.0 L601.6,686.7 L601.7,683.3 L601.3,680.0Z" fill="#a61e28" stroke="#a61e28" stroke-width=".6" stroke-linejoin="round"/>
<path d="M521.3,717.0 L524.5,717.4 L527.5,718.8 L529.9,719.9 L532.6,720.2 L535.0,721.3 L537.4,720.0 L540.0,719.6 L542.5,718.8 L545.0,720.0 L547.5,721.2 L550.0,722.5 L553.3,722.0 L556.6,721.3 L560.0,721.3 L563.2,721.2 L566.2,722.2 L569.4,721.9 L572.5,722.5 L572.5,722.5 L572.5,725.7 L573.5,728.8 L574.0,732.0 L575.0,735.0 L578.3,736.0 L581.7,735.5 L585.0,736.3 L585.1,739.1 L585.0,742.0 L585.4,744.8 L586.3,747.5 L587.8,750.1 L589.8,752.2 L591.1,754.9 L591.9,757.9 L594.1,760.0 L596.8,762.5 L598.6,765.7 L597.1,768.2 L594.6,770.0 L593.4,772.9 L591.6,775.2 L594.1,777.8 L596.0,780.9 L597.3,785.4 L601.7,787.3 L604.4,788.3 L606.6,790.4 L609.4,791.1 L610.3,794.1 L610.8,797.1 L611.1,800.2 L611.9,803.2 L608.1,805.7 L603.6,805.7 L600.5,808.9 L599.5,812.0 L599.6,815.3 L600.5,818.4 L600.7,821.1 L601.8,823.5 L602.4,826.0 L603.6,828.4 L604.8,830.8 L604.9,833.6 L605.7,836.2 L607.1,838.6 L608.1,841.2 L608.1,841.2 L603.6,838.7 L600.7,837.3 L598.6,834.9 L597.8,831.8 L597.3,828.6 L594.6,825.8 L591.6,823.5 L589.2,824.8 L586.4,824.4 L584.0,825.4 L581.1,823.6 L578.9,820.9 L576.0,819.0 L572.9,817.8 L570.0,815.9 L567.8,813.7 L565.0,812.5 L562.7,811.2 L559.8,811.5 L557.7,809.2 L555.0,809.0 L552.0,808.8 L549.3,810.3 L546.3,810.0 L545.5,812.6 L541.7,812.6 L537.9,815.1 L534.7,814.9 L531.6,813.9 L527.1,812.6 L526.5,808.8 L524.1,810.2 L522.7,812.6 L518.9,811.3 L516.3,813.2 L513.0,814.0 L509.5,813.4 L506.2,813.9 L503.8,815.3 L501.2,815.8 L498.3,815.5 L496.0,817.0 L492.2,816.4 L488.9,815.5 L485.9,813.7 L482.7,812.6 L482.0,809.4 L479.5,808.7 L476.9,807.9 L474.4,807.0 L471.9,806.2 L468.5,804.7 L465.5,802.4 L460.5,802.4 L461.1,800.5 L464.7,800.4 L468.1,799.3 L469.9,797.2 L472.5,796.1 L469.4,792.9 L466.0,791.3 L463.0,789.1 L465.5,789.1 L468.6,787.7 L471.9,787.8 L475.1,787.8 L478.2,788.5 L480.8,789.3 L483.3,790.4 L488.4,791.0 L490.8,788.8 L492.2,785.9 L494.2,784.1 L496.1,782.1 L498.6,780.9 L498.6,779.6 L495.4,781.2 L492.2,782.8 L489.1,783.8 L485.9,784.5 L483.2,784.2 L480.8,782.8 L477.0,783.4 L474.8,781.1 L471.9,779.6 L468.1,779.6 L468.1,779.6 L468.7,774.5 L471.9,773.9 L474.6,773.9 L477.0,772.6 L479.5,768.8 L482.2,768.8 L484.9,768.3 L487.5,767.5 L490.7,767.7 L493.8,768.8 L497.1,768.1 L500.0,766.3 L503.3,766.2 L506.7,766.5 L510.0,766.3 L507.5,763.8 L510.3,763.2 L512.7,761.6 L515.0,760.0 L516.2,757.5 L517.5,755.0 L515.0,752.5 L512.5,750.0 L513.3,746.7 L515.0,743.8 L517.3,742.1 L520.2,741.6 L522.5,740.0 L522.5,736.2 L522.5,732.5 L520.5,730.8 L518.8,728.8 L521.3,726.3 L521.0,723.2 L521.8,720.1 L521.3,717.0Z" fill="#a61e28" stroke="#a61e28" stroke-width=".6" stroke-linejoin="round"/>
<path d="M546.3,810.0 L549.3,810.3 L552.0,808.8 L555.0,809.0 L557.7,809.2 L559.8,811.5 L562.7,811.2 L565.0,812.5 L567.8,813.7 L570.0,815.9 L572.9,817.8 L576.0,819.0 L578.9,820.9 L581.1,823.6 L584.0,825.4 L586.4,824.4 L589.2,824.8 L591.6,823.5 L594.6,825.8 L597.3,828.6 L597.8,831.8 L598.6,834.9 L600.7,837.3 L603.6,838.7 L608.1,841.2 L613.2,848.9 L615.0,851.0 L616.8,853.0 L617.7,855.7 L619.5,857.8 L621.7,859.5 L622.9,862.0 L624.6,864.1 L627.9,866.1 L630.9,868.5 L634.6,867.2 L638.6,867.3 L641.5,865.7 L644.3,864.1 L644.6,861.0 L646.2,858.4 L648.1,861.6 L652.5,864.1 L655.0,862.8 L657.6,861.6 L661.4,859.0 L664.5,857.8 L667.8,857.8 L671.6,859.0 L674.9,859.0 L677.9,860.3 L682.4,861.6 L683.0,865.4 L677.9,865.4 L675.4,869.2 L674.2,872.4 L672.8,875.5 L673.0,878.8 L674.1,881.9 L670.3,883.8 L667.3,885.3 L664.0,885.7 L660.8,886.1 L657.6,885.7 L654.4,886.2 L651.2,887.0 L646.2,887.0 L644.8,884.0 L642.4,881.9 L639.2,880.8 L636.0,880.0 L632.9,881.1 L629.7,881.9 L627.2,884.0 L625.9,887.0 L622.5,888.8 L620.4,891.4 L617.2,892.5 L615.0,895.0 L612.6,896.5 L610.2,898.0 L607.8,899.3 L605.0,900.0 L601.9,900.9 L598.7,900.8 L595.7,902.3 L592.5,902.5 L589.9,903.6 L587.4,904.8 L585.1,906.4 L582.5,907.5 L580.8,910.4 L579.7,913.7 L577.5,916.3 L575.4,918.7 L572.8,920.4 L569.8,921.7 L567.5,923.8 L565.0,925.1 L562.6,926.5 L560.0,927.5 L556.9,926.7 L553.7,926.3 L550.6,925.9 L547.5,925.0 L545.2,923.0 L542.7,921.4 L540.0,920.0 L537.2,917.8 L535.0,915.0 L537.6,913.4 L540.0,911.7 L542.5,910.0 L542.2,907.3 L541.2,904.9 L540.0,902.5 L541.0,899.9 L543.2,897.8 L543.8,895.0 L543.2,891.2 L543.8,887.5 L542.4,885.1 L541.6,882.3 L540.0,880.0 L537.1,877.9 L535.0,875.0 L532.5,876.3 L530.0,877.5 L527.2,876.9 L525.0,875.0 L523.5,872.8 L522.0,870.6 L520.0,868.8 L517.5,867.4 L515.3,865.8 L512.5,865.0 L509.2,865.3 L505.8,864.7 L502.5,865.0 L498.8,864.3 L495.0,863.8 L493.8,860.0 L495.7,857.6 L497.5,855.0 L500.0,853.7 L502.7,853.0 L505.0,851.3 L507.9,850.2 L510.0,847.9 L512.5,846.3 L515.1,844.9 L517.1,842.6 L520.2,841.8 L522.5,840.0 L525.1,839.3 L527.8,838.8 L530.2,837.7 L532.5,836.3 L534.8,834.4 L537.4,832.8 L540.0,831.3 L543.2,830.3 L546.3,828.8 L548.5,826.9 L551.3,826.3 L549.6,824.2 L547.6,822.4 L546.3,820.0 L545.7,816.7 L545.6,813.3 L546.3,810.0Z" fill="#a61e28" stroke="#a61e28" stroke-width=".6" stroke-linejoin="round"/>
<path d="M457.9,738.3 L460.5,742.8 L463.6,746.6 L464.3,752.9 L468.1,756.1 L467.5,760.5 L469.4,763.1 L466.8,768.2 L465.5,772.0 L467.5,779.5" fill="none" stroke="#0f1011" stroke-width="2.3" stroke-linejoin="round" stroke-linecap="round"/>
<path d="M445.2,769.4 L447.8,773.9 L452.2,768.2" fill="none" stroke="#0f1011" stroke-width="1.5" stroke-linejoin="round" stroke-linecap="round"/>
<path d="M447.8,773.9 L446.5,780.0" fill="none" stroke="#0f1011" stroke-width="1.5" stroke-linejoin="round" stroke-linecap="round"/>
<g class="bd">
<path d="M176.3,408.0 L176.2,410.9 L175.1,413.7 L174.0,416.4 L173.5,419.3 L172.8,422.1 L172.5,425.0 L172.9,427.8 L172.7,430.7 L173.4,433.4 L174.4,436.2 L174.1,439.1 L175.0,441.8 L174.0,444.8 L175.0,447.5 L177.7,448.5 L180.7,447.9 L183.5,448.2 L186.3,448.8 L187.9,451.3 L190.4,453.1 L192.3,455.3 L194.1,457.6 L195.8,460.1 L197.5,462.5 L195.7,464.9 L193.6,467.1 L192.5,470.0 L194.9,471.8 L196.2,474.7 L198.8,476.3 L197.3,478.5 L195.4,480.5 L194.0,482.9 L193.4,485.7 L191.3,487.6 L190.0,490.0 L189.9,492.9 L189.5,495.8 L188.3,498.5 L187.5,501.3 L185.2,499.7 L182.5,498.7 L179.8,498.0 L177.5,496.3 L174.9,496.5 L172.3,497.2 L170.1,498.9 L167.5,499.3 L165.0,500.0 L164.0,502.4 L162.8,504.8 L162.5,507.5 L159.8,509.3 L156.7,510.0 L153.8,511.3 L152.8,514.4 L153.0,517.5 L152.5,520.6 L152.5,523.8"/>
<path d="M107.5,502.5 L110.8,503.5 L114.3,503.7 L117.5,505.0 L118.4,507.6 L120.0,509.9 L122.0,511.8 L123.3,514.2 L125.0,516.3 L128.0,517.5 L130.9,519.0 L133.6,520.7 L136.3,522.5 L139.0,523.0 L141.7,522.5 L144.3,523.9 L147.2,522.7 L149.8,523.1 L152.5,523.8"/>
<path d="M152.5,523.8 L154.6,525.5 L155.7,528.0 L157.5,530.0 L158.0,533.3 L157.2,536.7 L157.5,540.0 L159.6,541.7 L162.0,543.0 L164.0,544.9 L166.3,546.3 L166.8,549.4 L167.5,552.5 L165.3,554.4 L162.5,555.0 L159.9,556.1 L157.5,557.5 L154.7,558.2 L152.5,560.0 L150.9,562.3 L150.2,565.1 L149.1,567.7 L147.5,570.0 L145.8,572.4 L143.0,573.7 L141.1,575.8 L139.1,577.9 L137.1,580.1 L135.0,582.0"/>
<path d="M166.3,546.3 L168.2,543.6 L168.7,540.4 L170.0,537.5 L172.8,537.1 L175.6,536.4 L178.2,534.9 L180.9,533.9 L183.8,533.8 L186.6,532.9 L189.1,531.3 L192.0,530.6 L195.0,530.3 L197.5,528.8 L199.8,530.2 L202.7,529.9 L205.0,531.3"/>
<path d="M205.0,533.0 L207.8,532.6 L210.2,531.4 L212.6,530.2 L215.0,528.8 L216.7,526.7 L218.8,525.1 L221.2,523.8 L223.3,522.1 L225.0,520.0 L226.6,517.8 L228.9,516.3 L231.6,515.5 L233.0,512.9 L235.6,511.8 L237.5,510.0 L240.2,508.5 L243.2,507.7 L246.2,506.7 L248.8,505.0"/>
<path d="M248.8,505.0 L250.0,501.3 L250.0,497.5 L249.8,494.7 L250.4,491.9 L250.7,489.1 L249.7,486.2 L250.4,483.4 L249.8,480.6 L249.5,477.8 L250.0,475.0 L251.8,472.4 L254.3,470.2 L256.0,467.5 L256.2,464.7 L257.7,462.3 L258.0,459.6 L259.0,457.0 L258.3,454.0 L258.4,451.0 L258.1,448.0 L258.0,445.0 L258.7,442.0 L260.2,439.1 L261.0,436.2 L260.8,432.9 L262.0,430.0"/>
<path d="M205.0,531.3 L204.3,533.9 L203.7,536.6 L204.6,539.4 L202.9,541.9 L202.7,544.6 L203.5,547.4 L202.5,550.0 L202.4,552.9 L202.8,555.8 L204.0,558.5 L203.2,561.5 L204.5,564.3 L204.7,567.1 L205.0,570.0 L204.5,572.8 L204.1,575.7 L203.8,578.5 L204.2,581.5 L203.6,584.3 L203.8,587.2 L203.0,590.0 L203.9,592.9 L204.2,596.0 L205.4,598.9 L205.6,602.0 L206.0,605.0 L205.4,607.9 L206.1,610.9 L205.6,613.8 L206.0,616.7 L204.8,619.6 L205.0,622.5 L206.0,625.3 L206.2,628.2 L205.7,631.1 L206.5,633.9 L206.7,636.8 L207.0,639.7 L207.5,642.5 L208.8,645.4 L210.1,648.3 L211.3,651.3"/>
<path d="M135.0,582.0 L131.9,582.5 L128.7,582.1 L125.6,581.7 L122.5,582.5 L122.0,585.3 L121.9,588.2 L121.9,591.0 L121.3,593.8 L119.1,596.1 L116.3,597.5 L117.8,600.5 L120.1,602.7 L122.5,605.0 L119.7,606.0 L116.6,606.1 L113.7,606.6 L110.7,606.9 L108.0,608.5 L105.0,608.8 L102.3,609.5 L99.7,610.1 L96.9,609.9 L94.1,609.8 L91.4,610.5 L88.8,611.3 L87.7,614.4 L85.8,617.0 L84.6,620.0 L82.5,622.5 L82.8,625.5 L82.0,628.5 L82.3,631.5 L81.9,634.5 L81.3,637.5"/>
<path d="M50.0,616.3 L51.8,618.5 L52.1,621.5 L53.8,623.8 L55.7,626.0 L58.4,627.1 L60.7,628.8 L63.0,630.4 L65.0,632.5 L67.9,632.7 L70.6,633.8 L73.3,634.6 L75.7,636.3 L78.7,636.2 L81.3,637.5 L83.8,638.6 L85.4,641.0 L87.7,642.5 L90.6,643.0 L92.5,645.0 L94.6,647.3 L95.7,650.4 L98.3,652.4 L100.0,655.0 L103.0,653.9 L106.0,652.8 L108.8,651.3 L109.0,654.7 L110.3,657.9 L110.0,661.3 L113.8,661.6 L117.5,661.3 L119.4,663.8 L122.0,665.6 L124.3,667.7 L126.3,670.0 L127.0,672.6 L127.6,675.3 L128.7,677.7 L130.7,679.8 L131.3,682.5 L130.1,685.3 L129.6,688.4 L128.8,691.3"/>
<path d="M135.0,582.0 L136.4,584.5 L137.2,587.1 L138.1,589.8 L139.8,592.1 L140.2,594.9 L141.3,597.5 L141.0,600.3 L142.0,602.9 L142.5,605.7 L142.5,608.4 L143.5,611.1 L143.8,613.8 L146.1,615.6 L147.6,618.3 L150.0,620.0 L152.1,621.8 L152.9,624.5 L154.6,626.6 L156.6,628.4 L158.3,630.4 L160.0,632.5 L162.3,631.0 L164.8,630.2 L167.6,630.1 L170.0,628.8 L171.3,631.5 L173.0,633.9 L175.3,636.0 L176.1,639.0 L178.0,641.3"/>
<path d="M178.0,641.3 L175.9,643.5 L175.0,646.3 L175.5,649.4 L175.2,652.6 L176.4,655.6 L176.3,658.8 L173.5,659.5 L170.7,660.4 L167.8,660.6 L165.0,661.3 L163.5,664.0 L161.1,665.9 L159.2,668.2 L157.5,670.7 L155.0,672.5 L152.9,674.2 L151.1,676.1 L150.2,678.8 L147.9,680.4 L146.3,682.5 L145.9,685.6 L145.8,688.8 L145.2,691.9 L145.0,695.0 L145.1,697.8 L146.0,700.5 L146.2,703.2 L146.3,706.0"/>
<path d="M178.0,641.3 L180.2,642.8 L183.0,642.9 L184.9,644.9 L187.6,645.3 L190.0,646.3 L193.4,646.5 L196.6,647.3 L200.0,647.5 L203.0,648.0 L205.8,649.0 L208.5,650.2 L211.3,651.3 L214.3,652.0 L217.0,653.7 L220.0,654.5 L222.4,651.9 L225.0,649.5 L228.7,648.3 L232.5,647.5 L235.8,647.2 L239.2,647.1 L242.5,647.5 L245.6,647.1 L248.6,646.6 L251.4,645.1 L254.6,645.0 L257.5,643.8"/>
<path d="M248.8,505.0 L249.6,507.5 L250.0,510.1 L250.8,512.6 L251.5,515.1 L252.5,517.5 L254.6,519.9 L257.3,521.6 L260.3,522.7 L262.5,525.0 L264.9,527.2 L266.8,530.0 L268.8,532.5 L268.3,535.7 L266.9,538.6 L266.6,541.8 L266.3,545.0 L266.3,547.9 L266.5,550.9 L266.3,553.8 L268.3,556.1 L269.5,558.9 L271.3,561.3 L273.5,563.1 L276.5,563.3 L278.8,565.0"/>
<path d="M278.8,565.0 L281.4,564.0 L284.2,564.9 L286.8,564.4 L289.3,563.0 L292.1,563.5 L294.7,562.7 L297.4,563.4 L300.0,562.5 L302.9,562.7 L305.7,561.5 L308.6,561.6 L311.4,561.1 L314.2,560.4 L317.1,560.3 L320.0,560.0 L322.4,558.6 L325.0,557.5 L327.5,556.3 L328.1,559.5 L329.7,562.2 L331.3,565.0 L332.4,568.3 L332.3,571.6 L332.5,575.0 L335.7,576.1 L339.1,576.3 L342.5,576.3 L345.1,575.5 L347.6,574.6 L350.1,573.7 L352.5,572.5"/>
<path d="M278.8,565.0 L278.4,568.1 L277.9,571.1 L276.3,573.9 L276.1,577.1 L275.0,580.0 L275.8,582.6 L277.4,584.8 L277.2,587.8 L278.8,590.0 L279.0,592.8 L279.9,595.4 L280.7,598.1 L280.0,600.9 L280.3,603.7 L281.3,606.3 L278.6,607.5 L275.8,608.7 L272.6,608.4 L270.0,610.0 L267.2,611.1 L265.0,613.2 L262.8,615.2 L260.0,616.3 L259.1,619.0 L258.3,621.7 L258.8,624.6 L258.2,627.3 L257.5,630.0 L257.2,632.8 L257.6,635.6 L257.7,638.3 L258.4,641.1 L258.8,643.8 L260.1,646.5 L260.0,649.6 L261.1,652.3 L262.5,655.0"/>
<path d="M347.3,445.0 L346.1,448.0 L346.5,451.3 L346.0,454.5 L344.8,457.5 L346.9,459.2 L347.8,461.9 L349.4,464.1 L350.9,466.3 L352.9,468.1 L354.8,470.0 L353.7,472.4 L352.6,474.9 L352.0,477.5 L351.0,480.0 L352.4,482.5 L354.5,484.7 L356.1,487.1 L356.5,490.3 L358.5,492.5 L357.3,494.9 L356.4,497.3 L355.9,499.9 L355.4,502.5 L354.8,505.0 L355.0,508.2 L353.6,511.2 L353.8,514.4 L353.5,517.5 L355.7,519.8 L358.2,521.6 L360.7,523.5 L363.5,525.0 L363.7,527.9 L363.8,530.8 L364.7,533.6 L364.6,536.5 L365.2,539.3 L365.5,542.2 L366.0,545.0 L364.2,547.2 L363.1,549.7 L362.1,552.4 L361.1,554.9 L360.0,557.5 L357.7,559.5 L354.7,560.4 L352.5,562.5 L352.6,565.8 L352.7,569.2 L352.5,572.5"/>
<path d="M352.5,572.5 L352.8,575.6 L353.9,578.5 L354.5,581.6 L356.3,584.3 L356.3,587.5 L357.0,590.1 L357.8,592.6 L359.1,595.0 L360.0,597.5 L362.1,599.6 L364.5,601.4 L366.3,603.8"/>
<path d="M366.3,603.8 L369.0,602.2 L371.9,600.8 L375.0,600.0 L377.4,598.9 L379.8,597.7 L382.5,597.1 L385.0,596.3 L388.2,596.0 L391.2,596.9 L394.4,597.3 L397.5,597.5 L400.0,593.8 L402.9,593.4 L405.9,593.8 L408.7,592.4 L411.7,593.6 L414.6,592.6 L417.5,592.5 L419.1,590.1 L421.4,588.4 L423.4,586.4 L425.0,584.0 L427.5,582.5 L428.8,580.1 L429.7,577.6 L430.6,575.1 L431.7,572.6 L432.5,570.0 L433.5,567.5 L433.3,564.8 L433.8,562.2 L434.8,559.7 L434.5,557.0 L437.4,556.5 L439.7,554.4 L442.5,553.8 L445.3,554.5 L447.2,556.8 L450.0,557.5 L453.0,557.3 L455.8,556.0 L458.8,556.3 L459.4,553.4 L460.6,550.7 L461.7,548.0 L462.5,545.1 L463.8,542.5 L465.6,539.8 L468.0,537.6 L470.0,535.0 L471.8,532.8 L472.8,530.1 L474.4,527.8 L474.4,524.7 L476.3,522.5"/>
<path d="M366.3,603.8 L364.8,606.2 L364.2,609.0 L363.1,611.6 L361.4,613.9 L360.0,616.3 L360.9,619.2 L362.8,621.7 L363.3,624.8 L364.9,627.3 L366.3,630.0 L368.0,632.5 L369.6,635.1 L371.4,637.6 L373.2,640.0 L375.0,642.5 L375.6,645.2 L376.7,647.6 L378.0,650.0 L379.7,652.2 L380.0,655.0"/>
<path d="M380.0,655.0 L382.7,654.7 L384.8,652.7 L387.6,652.6 L390.0,651.3 L392.5,650.1 L395.3,649.4 L397.5,647.6 L400.0,646.2 L402.5,645.0 L403.6,641.8 L405.7,639.1 L407.5,636.3 L410.5,636.8 L413.4,636.6 L416.2,635.3 L419.2,635.9 L422.1,634.8 L425.0,635.0 L428.0,635.5 L431.0,635.7 L434.0,635.8 L437.0,636.5 L440.0,637.0 L441.9,635.2 L443.5,633.2 L444.8,630.8 L446.2,628.6 L447.8,626.5 L450.0,625.0 L452.9,626.1 L456.0,626.0 L459.0,626.5 L462.0,626.9 L465.0,627.5 L467.2,625.5 L469.8,624.2 L472.9,623.6 L474.9,621.3 L477.5,620.0 L479.7,618.2 L482.3,616.8 L484.2,614.5 L486.3,612.5 L489.1,614.2 L491.7,616.2 L493.8,618.8 L496.8,618.7 L499.7,619.0 L502.5,620.0 L504.3,618.0 L506.4,616.3 L508.8,615.0 L508.0,612.0 L507.8,609.0 L507.1,606.0 L506.6,603.0 L506.3,600.0"/>
<path d="M380.0,655.0 L377.5,656.9 L375.3,659.1 L372.1,660.1 L370.0,662.5 L368.9,665.3 L368.0,668.1 L366.6,670.8 L366.3,673.8"/>
<path d="M366.3,673.8 L364.9,677.2 L362.5,680.0 L359.4,680.2 L356.3,680.8 L353.1,680.4 L350.0,681.3 L347.0,680.6 L344.0,680.3 L341.1,679.2 L337.9,679.6 L335.0,678.8 L332.8,680.3 L331.3,682.6 L329.2,684.2 L327.5,686.3"/>
<path d="M366.3,673.8 L369.0,674.2 L371.8,674.6 L374.6,674.5 L377.2,675.8 L380.0,675.5 L383.0,676.7 L386.2,677.5 L389.4,677.9 L392.5,678.8"/>
<path d="M392.5,678.8 L395.4,677.6 L398.4,677.1 L401.5,677.0 L404.4,676.0 L407.5,676.0 L410.5,676.0 L413.2,674.2 L416.3,674.3 L419.1,673.4 L422.2,673.6 L425.0,672.5 L427.7,673.4 L430.1,675.0 L432.6,676.4 L435.0,678.0 L438.1,678.1 L441.1,678.3 L444.0,679.4 L447.1,679.4 L450.0,680.5 L452.7,680.9 L455.4,680.4 L458.0,681.3 L459.3,684.1 L460.1,687.1 L461.0,690.0 L461.8,693.2 L464.2,695.6 L465.0,698.8 L468.4,698.8 L471.6,700.4 L475.0,700.5 L478.7,699.5 L482.5,700.0 L486.0,699.8 L489.2,698.4 L492.5,697.5 L495.7,696.3 L499.3,696.3 L502.5,695.0 L503.7,692.6 L503.9,689.9 L505.0,687.5 L508.4,687.3 L511.6,685.7 L515.0,685.5 L517.5,687.5"/>
<path d="M392.5,678.8 L390.1,681.5 L388.8,685.0 L389.5,687.5 L390.7,689.9 L390.4,692.7 L391.9,695.0 L392.5,697.5 L394.0,700.4 L396.8,702.3 L398.5,705.1 L400.0,708.0 L401.5,710.3 L403.7,712.0 L406.5,712.9 L408.0,715.2 L410.0,717.0 L411.8,719.2 L413.8,721.3 L415.7,723.4 L417.0,726.0 L418.3,728.9 L419.5,731.8 L420.0,735.0 L423.4,735.4 L426.5,737.2 L430.0,737.5 L430.2,741.2 L430.0,745.0 L432.7,746.4 L435.1,748.2 L437.5,750.0 L437.2,752.7 L435.3,754.8 L435.0,757.5 L432.1,757.9 L429.2,758.1 L426.3,758.8 L426.9,761.9 L429.3,764.2 L430.0,767.2 L431.3,770.0 L431.6,772.7 L431.5,775.5 L432.0,778.3 L432.5,781.0"/>
<path d="M560.0,628.8 L556.8,627.4 L553.2,627.5 L550.0,626.3 L546.6,626.1 L543.4,627.1 L540.0,627.0 L538.9,629.5 L538.6,632.3 L537.4,634.8 L536.6,637.3 L536.0,640.0 L537.3,642.6 L536.8,645.6 L538.2,648.2 L538.2,651.0 L538.8,653.8 L538.6,656.7 L539.2,659.4 L539.3,662.2 L540.0,665.0 L538.6,667.7 L536.7,670.0 L535.0,672.5 L532.8,674.6 L530.0,675.8 L527.5,677.5 L526.7,680.2 L525.0,682.5 L522.1,683.6 L520.2,686.1 L517.5,687.5"/>
<path d="M517.5,687.5 L518.2,690.9 L519.1,694.2 L520.0,697.5 L520.1,700.8 L519.8,704.2 L520.0,707.5 L518.2,710.0 L516.3,712.5 L518.8,714.7 L521.3,717.0"/>
<path d="M403.5,456.3 L404.0,459.1 L402.9,461.7 L402.8,464.4 L403.3,467.1 L403.2,469.9 L402.3,472.5 L403.5,475.0 L405.7,476.6 L407.5,478.6 L408.8,481.0 L410.1,483.3 L412.3,485.0 L413.4,487.4 L413.3,490.2 L414.8,492.5 L417.5,492.2 L420.3,493.2 L423.0,492.8 L425.8,491.9 L428.5,492.5 L429.2,495.1 L431.5,496.8 L432.8,499.1 L433.4,501.8 L434.1,504.3 L436.0,506.3 L438.7,506.4 L440.8,508.4 L443.4,508.9 L445.9,509.6 L448.5,510.0 L450.9,508.8 L453.4,507.8 L456.0,507.0 L458.5,505.5 L461.2,504.5 L463.8,503.3 L465.7,505.4 L467.4,507.6 L468.6,510.1 L470.0,512.5 L472.1,514.6 L472.9,517.7 L475.1,519.8 L476.3,522.5"/>
<path d="M534.5,375.0 L533.1,377.3 L533.4,380.1 L532.3,382.5 L532.1,385.2 L530.8,387.5 L533.4,389.5 L535.3,392.2 L537.0,395.0 L535.2,397.0 L534.0,399.4 L531.8,401.1 L530.1,403.1 L528.6,405.4 L527.0,407.5 L526.0,410.3 L524.4,412.8 L522.6,415.2 L520.8,417.5 L521.6,420.4 L521.4,423.5 L522.3,426.3 L523.4,429.1 L524.4,432.0 L524.5,435.0 L523.4,437.6 L521.4,439.7 L520.3,442.3 L519.7,445.1 L518.5,447.6 L517.0,450.0 L516.7,453.0 L515.7,456.0 L515.0,458.9 L515.4,462.1 L514.5,465.0 L516.9,467.0 L519.9,468.2 L521.9,470.7 L524.5,472.5 L524.8,475.4 L523.8,478.1 L523.9,481.0 L522.9,483.7 L523.1,486.6 L522.3,489.3 L522.2,492.2 L522.0,495.0 L521.7,498.2 L520.6,501.2 L520.6,504.4 L520.0,507.5"/>
<path d="M520.0,507.5 L517.9,509.4 L515.7,511.2 L514.2,513.7 L511.6,515.1 L510.0,517.5 L506.8,517.6 L503.6,518.1 L500.6,519.2 L497.5,520.0 L494.1,519.9 L490.9,518.7 L487.5,518.8 L484.9,520.3 L481.9,520.6 L479.3,522.1 L476.3,522.5"/>
<path d="M476.3,522.5 L475.6,526.2 L475.0,530.0 L477.1,532.3 L478.5,535.2 L480.3,537.8 L482.5,540.0 L483.1,542.6 L484.8,544.8 L485.4,547.4 L486.1,549.9 L486.0,552.7 L487.5,555.0 L489.4,557.3 L491.6,559.2 L493.6,561.4 L496.3,562.9 L497.7,565.6 L500.0,567.5 L500.8,570.1 L502.4,572.3 L503.2,574.9 L504.1,577.5 L505.0,580.0 L504.5,582.9 L505.6,585.7 L506.3,588.5 L505.3,591.5 L505.4,594.3 L506.4,597.1 L506.3,600.0"/>
<path d="M506.3,600.0 L508.7,601.2 L510.6,603.3 L513.5,603.9 L515.6,605.6 L517.8,607.2 L520.0,608.8 L522.2,611.0 L525.1,612.1 L527.4,614.1 L530.3,615.3 L532.5,617.5 L535.3,619.2 L537.3,621.9 L540.0,623.8 L543.3,624.7 L546.6,625.8 L550.0,626.3 L553.4,627.0 L556.7,628.0 L560.0,628.8 L562.9,627.9 L565.9,627.4 L568.9,626.6 L571.9,626.3 L575.0,626.3 L575.6,622.5 L576.3,618.8 L578.6,617.0 L580.9,615.3 L583.0,613.3 L585.0,611.3 L587.7,610.8 L590.1,609.7 L592.2,607.8 L595.0,607.5 L597.9,607.8 L600.6,606.9 L603.5,606.5 L606.3,606.3"/>
<path d="M520.0,507.5 L523.0,507.9 L526.0,508.4 L528.9,509.6 L531.9,510.1 L535.0,510.0 L538.1,510.5 L540.9,512.0 L543.8,512.9 L546.9,513.5 L550.0,513.8 L552.2,512.0 L555.3,512.0 L557.3,509.9 L560.0,509.0 L563.1,509.4 L566.2,508.4 L569.4,509.0 L572.5,508.8 L573.6,511.6 L574.1,514.5 L575.0,517.3 L576.3,520.0 L577.4,522.5 L579.0,524.7 L580.5,526.9 L582.5,528.8 L583.2,531.7 L584.1,534.6 L585.0,537.5 L588.3,537.9 L591.7,537.7 L595.0,537.5 L598.0,537.5 L600.8,536.5 L603.8,536.3"/>
<path d="M603.8,536.3 L606.6,534.7 L609.4,533.1 L612.4,531.9 L615.0,530.0 L617.7,529.3 L619.9,527.5 L622.5,526.7 L625.0,525.5 L628.0,524.8 L630.9,524.1 L633.9,523.6 L636.7,522.5 L639.5,521.3"/>
<path d="M603.8,536.3 L603.2,539.1 L603.0,542.0 L601.2,544.5 L601.3,547.5 L602.9,550.4 L605.1,552.7 L607.5,555.0 L609.8,556.7 L612.8,556.9 L614.8,559.1 L617.5,560.0 L619.0,562.3 L619.6,564.9 L620.4,567.5 L621.3,570.0 L624.0,570.9 L626.3,572.6 L628.8,573.8 L628.4,576.7 L628.6,579.7 L627.5,582.5 L626.1,585.2 L624.1,587.5 L622.5,590.0 L619.7,591.8 L617.3,593.9 L615.0,596.3 L612.6,597.5 L609.8,597.4 L607.5,598.8 L606.5,602.5 L606.3,606.3"/>
<path d="M606.3,606.3 L609.1,607.4 L612.0,608.1 L615.0,608.8 L617.4,611.0 L620.0,612.9 L622.5,615.0 L624.9,616.2 L627.7,616.0 L630.1,617.0 L632.5,618.2 L635.0,618.8 L638.2,618.9 L641.2,620.3 L644.4,620.5 L647.5,621.3 L649.7,623.8 L652.7,625.2 L655.0,627.5 L656.2,630.3 L657.8,632.9 L660.0,635.0 L662.4,637.3 L664.5,639.8 L666.3,642.5 L667.6,646.1 L667.5,650.0 L669.8,647.7 L672.3,645.7 L675.0,644.0 L677.9,644.3 L680.8,645.2 L683.9,644.4 L686.8,645.0"/>
<path d="M387.5,506.0 L389.7,503.9 L391.7,501.7 L393.8,499.5 L396.0,501.0 L397.9,503.1 L400.4,504.3 L402.5,506.0 L404.4,504.0 L407.0,503.1 L408.7,500.8 L411.3,499.8 L413.4,502.4 L416.5,503.8 L415.0,506.6 L414.7,509.9 L412.8,512.5 L414.1,515.7 L413.9,519.3 L415.5,522.5 L412.9,524.7 L410.9,527.4 L408.8,530.0 L408.4,533.0 L407.3,535.9 L406.9,538.9 L407.4,542.1 L406.3,545.0 L405.4,542.3 L403.5,540.2 L402.9,537.3 L400.6,535.3 L400.0,532.5 L399.2,529.9 L397.2,527.9 L396.9,525.0 L395.8,522.6 L394.0,520.5 L390.5,519.6 L387.0,518.8 L386.7,515.6 L386.9,512.4 L387.9,509.2 L387.5,506.0"/>
<path d="M743.5,605.9 L746.0,607.8 L748.4,609.8 L748.0,613.1 L747.1,616.3 L747.4,619.6 L750.0,620.2 L752.6,620.9 L755.2,621.6 L756.0,624.9 L757.6,627.9 L758.1,631.3 L756.1,634.2 L754.2,637.2 L755.0,639.7 L755.7,642.3 L757.7,644.3 L758.1,647.0 L759.5,649.2 L761.0,651.4 L761.2,654.2 L762.6,656.5 L764.0,658.7 L765.3,661.1 L764.6,664.1 L765.9,666.5 L768.1,669.0 L771.0,670.6 L773.8,672.3 L775.6,674.9 L778.1,676.9 L780.2,679.2 L781.6,682.1 L784.2,683.4 L787.1,684.1 L789.4,686.0 L792.1,687.6 L794.3,689.9 L794.7,693.2 L794.3,696.5"/>
<path d="M748.3,553.0 L747.7,556.0 L746.8,559.0 L746.4,562.0 L744.7,564.3 L743.5,566.9 L744.7,570.0 L745.5,573.2 L745.4,576.6 L744.6,579.3 L743.8,582.0 L742.5,584.5 L741.1,587.6 L740.3,590.9 L739.6,594.2 L739.7,596.8 L740.1,599.4 L740.5,602.0 L743.5,605.9"/>
<path d="M743.5,605.9 L738.6,605.9 L736.0,605.3 L733.8,603.7 L731.4,602.7 L728.8,602.0 L726.2,602.5 L723.9,604.0 L727.9,606.9 L726.0,609.0 L723.7,610.7 L721.6,612.5 L719.1,613.8 L717.5,616.9 L715.2,619.6 L713.0,621.3 L711.7,623.9 L709.3,625.5 L707.3,628.4 L705.4,631.3 L702.5,632.2 L699.5,632.3 L696.7,633.1 L693.7,633.3 L690.3,634.3 L686.8,635.2"/>
<path d="M686.8,635.2 L687.6,638.4 L687.0,641.8 L687.5,645.0 L689.4,647.6 L691.2,650.4 L693.8,652.5 L693.3,655.5 L692.5,658.5 L691.3,661.3 L692.7,664.4 L694.4,667.2 L696.3,670.0 L695.8,673.4 L694.4,676.6 L693.8,680.0 L691.1,680.7 L688.2,680.6 L685.6,682.1 L682.8,682.4 L680.0,682.5 L679.6,685.9 L680.5,689.2 L680.5,692.5"/>
<path d="M680.5,692.5 L680.7,695.8 L682.9,698.6 L682.6,702.0 L683.8,705.0 L686.3,707.2 L687.4,710.5 L690.0,712.5 L692.9,713.8 L694.7,716.7 L697.3,718.3 L700.0,720.0 L702.3,721.7 L704.7,723.2 L707.7,723.4 L710.0,725.0 L709.4,727.6 L708.0,729.9 L707.5,732.5 L704.2,733.7 L700.9,734.5 L697.5,735.0 L696.6,738.1 L694.5,740.7 L693.8,743.8 L695.5,746.3 L697.6,748.2 L700.0,750.0 L702.0,752.3 L702.8,755.4 L705.0,757.5 L703.7,761.0 L702.5,764.5"/>
<path d="M601.3,680.0 L604.1,679.5 L606.9,679.4 L609.7,679.0 L612.5,678.8 L615.6,679.3 L618.8,679.8 L621.8,680.7 L625.0,681.0 L628.3,679.9 L631.7,679.7 L635.0,678.8 L638.4,678.5 L641.7,679.3 L645.0,680.0 L648.0,681.0 L651.1,682.0 L653.8,683.8 L655.6,686.5 L658.2,688.6 L660.0,691.3 L659.6,695.0 L660.0,698.8 L663.1,699.5 L666.2,698.4 L669.4,699.4 L672.5,698.8 L675.5,697.1 L678.0,694.8 L680.5,692.5"/>
<path d="M601.3,680.0 L601.7,683.3 L601.6,686.7 L602.5,690.0 L601.0,692.3 L601.1,695.1 L600.0,697.5 L602.2,700.3 L605.0,702.5 L604.5,705.2 L604.4,707.9 L605.0,710.7 L604.9,713.4 L604.2,716.1 L603.8,718.8"/>
<path d="M521.3,717.0 L524.5,717.4 L527.5,718.8 L529.9,719.9 L532.6,720.2 L535.0,721.3 L537.4,720.0 L540.0,719.6 L542.5,718.8 L545.0,720.0 L547.5,721.2 L550.0,722.5 L553.3,722.0 L556.6,721.3 L560.0,721.3 L563.2,721.2 L566.2,722.2 L569.4,721.9 L572.5,722.5"/>
<path d="M572.5,722.5 L575.7,722.5 L578.8,722.3 L581.9,721.6 L585.0,721.3 L588.3,720.5 L591.6,719.5 L595.0,718.8 L597.9,719.5 L600.9,718.5 L603.8,718.8"/>
<path d="M572.5,722.5 L572.5,725.7 L573.5,728.8 L574.0,732.0 L575.0,735.0 L578.3,736.0 L581.7,735.5 L585.0,736.3 L585.1,739.1 L585.0,742.0 L585.4,744.8 L586.3,747.5 L587.8,750.1 L589.8,752.2 L591.1,754.9 L591.9,757.9 L594.1,760.0 L596.8,762.5 L598.6,765.7 L597.1,768.2 L594.6,770.0 L593.4,772.9 L591.6,775.2 L594.1,777.8 L596.0,780.9 L597.3,785.4 L601.7,787.3 L604.4,788.3 L606.6,790.4 L609.4,791.1 L610.3,794.1 L610.8,797.1 L611.1,800.2 L611.9,803.2"/>
<path d="M521.3,717.0 L521.8,720.1 L521.0,723.2 L521.3,726.3 L518.8,728.8 L520.5,730.8 L522.5,732.5 L522.5,736.2 L522.5,740.0 L520.2,741.6 L517.3,742.1 L515.0,743.8 L513.3,746.7 L512.5,750.0 L515.0,752.5 L517.5,755.0 L516.2,757.5 L515.0,760.0 L512.7,761.6 L510.3,763.2 L507.5,763.8 L510.0,766.3 L506.7,766.5 L503.3,766.2 L500.0,766.3 L497.1,768.1 L493.8,768.8 L490.7,767.7 L487.5,767.5 L484.9,768.3 L482.2,768.8 L479.5,768.8 L477.0,772.6 L474.6,773.9 L471.9,773.9 L468.7,774.5 L468.1,779.6"/>
<path d="M546.3,810.0 L549.3,810.3 L552.0,808.8 L555.0,809.0 L557.7,809.2 L559.8,811.5 L562.7,811.2 L565.0,812.5 L567.8,813.7 L570.0,815.9 L572.9,817.8 L576.0,819.0 L578.9,820.9 L581.1,823.6 L584.0,825.4 L586.4,824.4 L589.2,824.8 L591.6,823.5 L594.6,825.8 L597.3,828.6 L597.8,831.8 L598.6,834.9 L600.7,837.3 L603.6,838.7 L608.1,841.2"/>
</g>
<path class="ld" d="M842.1,333.6 L741.5,333.6 Q732.5,333.6 730.2,342.3 L678.3,538.1"/><circle cx="678.3" cy="538.1" r="3.9" fill="#fff"/>
<path class="ld" d="M842.1,362.1 L751.0,362.1 Q742.0,362.1 739.7,370.8 L687.7,564.1"/><circle cx="687.7" cy="564.1" r="3.9" fill="#fff"/>
<path class="ld" d="M842.1,390.6 L778.5,390.6 Q769.5,390.6 767.2,399.3 L712.3,602.8"/><circle cx="712.3" cy="602.8" r="3.9" fill="#fff"/>
<path class="ld" d="M842.1,419.5 L797.0,419.5 Q788.0,419.5 785.6,428.2 L737.7,600.3"/><circle cx="737.7" cy="600.3" r="3.9" fill="#fff"/>
<path class="ld" d="M842.1,447.9 L794.0,447.9 Q785.0,447.9 782.5,456.6 L736.0,618.2"/><circle cx="736.0" cy="618.2" r="3.9" fill="#fff"/>
<path class="ld" d="M842.1,476.6 L793.6,476.6 Q784.6,476.6 782.0,485.3 L741.3,623.1"/><circle cx="741.3" cy="623.1" r="3.9" fill="#fff"/>
<path class="ld" d="M842.1,505.3 L799.9,505.3 Q790.9,505.3 788.2,513.9 L756.0,614.9"/><circle cx="756.0" cy="614.9" r="3.9" fill="#fff"/>
<path class="ld" d="M842.1,534.2 L796.8,534.2 Q787.8,534.2 784.9,542.8 L758.0,623.1"/><circle cx="758.0" cy="623.1" r="3.9" fill="#fff"/>
<path class="ld" d="M842.1,563.1 L835.6,563.1 Q826.6,563.1 823.7,571.7 L801.1,637.7"/><circle cx="801.1" cy="637.7" r="3.9" fill="#fff"/>
<path class="ld" d="M838.2,713.4 L799.2,713.4 Q790.2,713.4 787.7,704.8 L767.0,634.3"/><circle cx="767.0" cy="634.3" r="3.9" fill="#fff"/>
<path class="ld" d="M838.2,742.4 L794.3,742.4 Q785.3,742.4 782.8,733.7 L756.2,639.9"/><circle cx="756.2" cy="639.9" r="3.9" fill="#fff"/>
<path class="ld" d="M838.2,770.9 L775.5,770.9 Q766.5,770.9 764.0,762.3 L740.9,680.7"/><circle cx="740.9" cy="680.7" r="3.9" fill="#fff"/>
<path class="ld" d="M838.2,799.8 L800.0,799.8 Q791.0,799.8 788.5,791.1 L746.4,644.8"/><circle cx="746.4" cy="644.8" r="3.9" fill="#fff"/>
<path class="ld" d="M838.2,828.4 L800.3,828.4 Q791.3,828.4 788.8,819.8 L752.0,693.9"/><circle cx="752.0" cy="693.9" r="3.9" fill="#fff"/>
<path class="ld" d="M838.2,857.0 L775.0,857.0 Q766.0,857.0 763.4,848.4 L734.0,750.0"/><circle cx="734.0" cy="750.0" r="3.9" fill="#fff"/>
<rect x="841.1" y="321.5" width="74.6" height="24.3" rx="3.5" fill="#fff"/>
<rect x="917.3" y="321.5" width="24.2" height="24.3" rx="3.5" fill="#fff"/>
<text class="lb" x="844.3" y="340.6" textLength="68.0" lengthAdjust="spacingAndGlyphs">Веселое</text>
<text class="nb" x="929.4" y="340.6">1</text>
<rect x="841.1" y="350.0" width="84.3" height="24.3" rx="3.5" fill="#fff"/>
<rect x="927.6" y="350.0" width="24.4" height="24.3" rx="3.5" fill="#fff"/>
<text class="lb" x="844.3" y="369.1" textLength="77.7" lengthAdjust="spacingAndGlyphs">Балаклея</text>
<text class="nb" x="939.8" y="369.1">1</text>
<rect x="841.1" y="378.5" width="53.5" height="24.3" rx="3.5" fill="#fff"/>
<rect x="896.7" y="378.5" width="24.5" height="24.3" rx="3.5" fill="#fff"/>
<text class="lb" x="844.3" y="397.6" textLength="46.9" lengthAdjust="spacingAndGlyphs">Изюм</text>
<text class="nb" x="909.0" y="397.6">1</text>
<rect x="841.1" y="407.4" width="134.8" height="24.3" rx="3.5" fill="#fff"/>
<rect x="977.4" y="407.4" width="24.2" height="24.3" rx="3.5" fill="#fff"/>
<text class="lb" x="844.3" y="426.5" textLength="128.2" lengthAdjust="spacingAndGlyphs">Дружелюбовка</text>
<text class="nb" x="989.5" y="426.5">1</text>
<rect x="841.1" y="435.8" width="60.5" height="24.3" rx="3.5" fill="#fff"/>
<rect x="903.6" y="435.8" width="24.0" height="24.3" rx="3.5" fill="#fff"/>
<text class="lb" x="844.3" y="454.9" textLength="53.9" lengthAdjust="spacingAndGlyphs">Лиман</text>
<text class="nb" x="915.6" y="454.9">3</text>
<rect x="841.1" y="464.5" width="79.9" height="24.3" rx="3.5" fill="#fff"/>
<rect x="922.9" y="464.5" width="24.1" height="24.3" rx="3.5" fill="#fff"/>
<text class="lb" x="844.3" y="483.6" textLength="73.3" lengthAdjust="spacingAndGlyphs">Диброва</text>
<text class="nb" x="935.0" y="483.6">1</text>
<rect x="841.1" y="493.2" width="101.0" height="24.3" rx="3.5" fill="#fff"/>
<rect x="944" y="493.2" width="24.0" height="24.3" rx="3.5" fill="#fff"/>
<text class="lb" x="844.3" y="512.3" textLength="94.4" lengthAdjust="spacingAndGlyphs">Кременная</text>
<text class="nb" x="956.0" y="512.3">2</text>
<rect x="841.1" y="522.1" width="113.3" height="24.3" rx="3.5" fill="#fff"/>
<rect x="956.3" y="522.1" width="24.2" height="24.3" rx="3.5" fill="#fff"/>
<text class="lb" x="844.3" y="541.2" textLength="106.7" lengthAdjust="spacingAndGlyphs">Белогоровка</text>
<text class="nb" x="968.4" y="541.2">2</text>
<rect x="841.1" y="551" width="141.6" height="24.3" rx="3.5" fill="#fff"/>
<rect x="984.6" y="551" width="24.4" height="24.3" rx="3.5" fill="#fff"/>
<text class="lb" x="844.3" y="570.1" textLength="135.0" lengthAdjust="spacingAndGlyphs">Красный Лиман</text>
<text class="nb" x="996.8" y="570.1">6</text>
<rect x="837.2" y="701.3" width="87.3" height="24.3" rx="3.5" fill="#fff"/>
<rect x="926.4" y="701.3" width="24.1" height="24.3" rx="3.5" fill="#fff"/>
<text class="lb" x="840.4" y="720.4" textLength="80.7" lengthAdjust="spacingAndGlyphs">Попасная</text>
<text class="nb" x="938.5" y="720.4">2</text>
<rect x="837.2" y="730.2" width="79.1" height="24.3" rx="3.5" fill="#fff"/>
<rect x="918.2" y="730.2" width="24.3" height="24.3" rx="3.5" fill="#fff"/>
<text class="lb" x="840.4" y="749.3" textLength="72.5" lengthAdjust="spacingAndGlyphs">Спорное</text>
<text class="nb" x="930.4" y="749.3">1</text>
<rect x="837.2" y="758.8" width="84.9" height="24.3" rx="3.5" fill="#fff"/>
<rect x="924.1" y="758.8" width="24.2" height="24.3" rx="3.5" fill="#fff"/>
<text class="lb" x="840.4" y="777.9" textLength="78.3" lengthAdjust="spacingAndGlyphs">Авдеевка</text>
<text class="nb" x="936.2" y="777.9">1</text>
<rect x="837.2" y="787.6" width="65.4" height="24.3" rx="3.5" fill="#a61e28"/>
<rect x="904.4" y="787.6" width="26.5" height="24.3" rx="3.5" fill="#a61e28"/>
<text class="lb" x="840.4" y="806.7" textLength="58.8" lengthAdjust="spacingAndGlyphs" style="fill:#fff">Бахмут</text>
<text class="nb" x="917.6" y="806.7" style="fill:#fff">25</text>
<rect x="837.2" y="816.3" width="87.7" height="24.3" rx="3.5" fill="#a61e28"/>
<rect x="926.8" y="816.3" width="38.1" height="24.3" rx="3.5" fill="#a61e28"/>
<text class="lb" x="840.4" y="835.4" textLength="81.1" lengthAdjust="spacingAndGlyphs" style="fill:#fff">Макеевка</text>
<text class="nb" x="945.8" y="835.4" style="fill:#fff">140</text>
<rect x="837.2" y="844.9" width="101.0" height="24.3" rx="3.5" fill="#fff"/>
<rect x="940.1" y="844.9" width="24.0" height="24.3" rx="3.5" fill="#fff"/>
<text class="lb" x="840.4" y="864.0" textLength="94.4" lengthAdjust="spacingAndGlyphs">Мариуполь</text>
<text class="nb" x="952.1" y="864.0">5</text>
<path class="ld" d="M313.2,442.3 L361.2,442.3 Q370.2,442.3 372.7,451.0 L388.3,505.5"/><circle cx="388.3" cy="505.5" r="3.9" fill="#fff"/>
<rect x="225.3" y="430.2" width="88.9" height="24.3" rx="3.5" fill="#fff"/>
<rect x="199" y="430.2" width="24.2" height="24.3" rx="3.5" fill="#fff"/>
<text class="lb" x="228.5" y="449.3" textLength="82.3" lengthAdjust="spacingAndGlyphs">Гостомель</text>
<text class="nb" x="211.1" y="449.3">2</text>
<path class="ld" d="M622.9,641.9 L683.5,641.9 Q692.5,641.9 695.0,650.6 L711.8,707.9"/><circle cx="711.8" cy="707.9" r="3.9" fill="#fff"/>
<rect x="551.3" y="629.8" width="72.6" height="24.3" rx="3.5" fill="#fff"/>
<rect x="525.9" y="629.8" width="22.6" height="24.3" rx="3.5" fill="#fff"/>
<text class="lb" x="554.5" y="648.9" textLength="66.0" lengthAdjust="spacingAndGlyphs">Угледар</text>
<text class="nb" x="537.2" y="648.9">2</text>
<path class="ld" d="M419.8,713.4 L473.8,713.4 Q482.8,713.4 485.3,722.1 L501.6,778.2"/><circle cx="501.6" cy="778.2" r="3.9" fill="#fff"/>
<rect x="355.9" y="701.3" width="64.9" height="24.3" rx="3.5" fill="#fff"/>
<rect x="330.5" y="701.3" width="22.7" height="24.3" rx="3.5" fill="#fff"/>
<text class="lb" x="359.1" y="720.4" textLength="58.3" lengthAdjust="spacingAndGlyphs">Херсон</text>
<text class="nb" x="341.9" y="720.4">2</text>
<rect x="921.5" y="1007.5" width="102.5" height="16.5" fill="#000"/>
<text x="925.8" y="1019.6" textLength="94.2" lengthAdjust="spacingAndGlyphs" class="cap">Idel.Реалии (RFE/RL)</text>
</svg></body></html>
